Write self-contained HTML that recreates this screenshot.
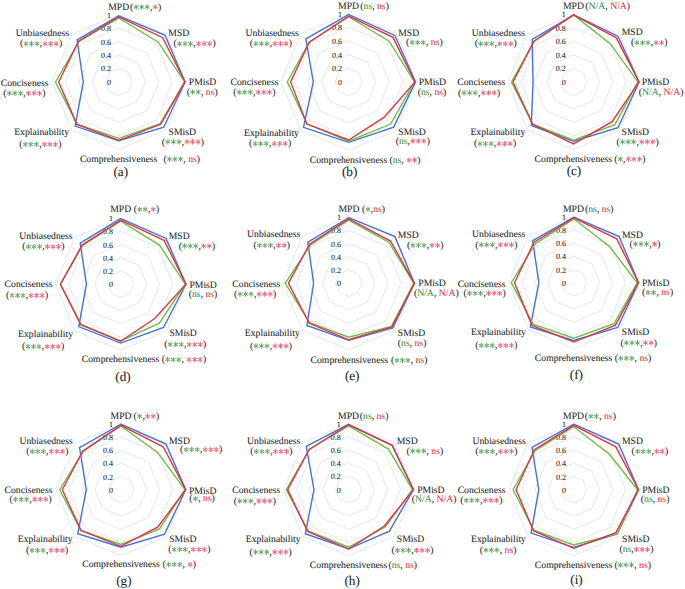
<!DOCTYPE html>
<html><head><meta charset="utf-8"><style>
html,body{margin:0;padding:0;background:#fff;}
svg{display:block;}
text{font-family:"Liberation Serif",serif;font-kerning:none;white-space:pre;text-rendering:geometricPrecision;stroke-width:0.07px;stroke-linejoin:round;}
</style></head><body>
<svg width="685" height="589" viewBox="0 0 685 589">
<rect width="685" height="589" fill="#fff"/>
<polygon points="118.85,68.47 128.30,72.42 132.21,81.95 128.30,91.48 118.85,95.43 109.40,91.48 105.49,81.95 109.40,72.42" fill="none" stroke="#dcdcdc" stroke-width="0.7"/>
<polygon points="118.85,54.99 137.74,62.89 145.57,81.95 137.74,101.01 118.85,108.91 99.96,101.01 92.13,81.95 99.96,62.89" fill="none" stroke="#dcdcdc" stroke-width="0.7"/>
<polygon points="118.85,41.51 147.19,53.35 158.93,81.95 147.19,110.55 118.85,122.39 90.51,110.55 78.77,81.95 90.51,53.35" fill="none" stroke="#dcdcdc" stroke-width="0.7"/>
<polygon points="118.85,28.03 156.64,43.82 172.29,81.95 156.64,120.08 118.85,135.87 81.06,120.08 65.41,81.95 81.06,43.82" fill="none" stroke="#dcdcdc" stroke-width="0.7"/>
<polygon points="118.85,14.55 166.08,34.29 185.65,81.95 166.08,129.61 118.85,149.35 71.62,129.61 52.05,81.95 71.62,34.29" fill="none" stroke="#dcdcdc" stroke-width="0.7"/>
<text x="111.05" y="84.95" font-size="8.0" text-anchor="end" fill="#1e1e1e" stroke="#1e1e1e">0</text>
<text x="111.05" y="71.47" font-size="8.0" text-anchor="end" fill="#1e1e1e" stroke="#1e1e1e">0.2</text>
<text x="111.05" y="57.99" font-size="8.0" text-anchor="end" fill="#1e1e1e" stroke="#1e1e1e">0.4</text>
<text x="111.05" y="44.51" font-size="8.0" text-anchor="end" fill="#1e1e1e" stroke="#1e1e1e">0.6</text>
<text x="111.05" y="31.03" font-size="8.0" text-anchor="end" fill="#1e1e1e" stroke="#1e1e1e">0.8</text>
<text x="111.05" y="17.55" font-size="8.0" text-anchor="end" fill="#1e1e1e" stroke="#1e1e1e">1</text>
<polygon points="118.85,15.83 165.05,35.34 184.98,81.95 163.77,127.27 118.85,140.79 75.11,126.08 83.31,81.95 77.05,39.77" fill="none" stroke="#4472d6" stroke-width="1.4" stroke-linejoin="miter"/>
<polygon points="118.85,17.99 158.29,42.15 184.65,81.95 160.18,123.65 118.85,138.36 77.05,124.13 55.52,81.95 78.94,41.68" fill="none" stroke="#6cc044" stroke-width="1.4" stroke-linejoin="miter"/>
<polygon points="118.85,16.77 162.68,37.72 184.98,81.95 160.65,124.13 118.85,140.32 76.81,124.37 58.73,81.95 78.46,41.20" fill="none" stroke="#e0344a" stroke-width="1.4" stroke-linejoin="miter"/>
<text x="108.25" y="9.75" font-size="9.7" fill="#1e1e1e" stroke="#1e1e1e">MPD</text>
<text x="130.07" y="9.75" font-size="9.7" fill="#1e1e1e" stroke="#1e1e1e">(</text>
<path d="M136.08,9.35L136.08,4.75M134.09,8.20L138.07,5.90M138.07,8.20L134.09,5.90" stroke="#64a864" stroke-width="1.0" stroke-linecap="round" fill="none"/>
<path d="M141.63,9.35L141.63,4.75M139.64,8.20L143.62,5.90M143.62,8.20L139.64,5.90" stroke="#64a864" stroke-width="1.0" stroke-linecap="round" fill="none"/>
<path d="M147.18,9.35L147.18,4.75M145.19,8.20L149.17,5.90M149.17,8.20L145.19,5.90" stroke="#64a864" stroke-width="1.0" stroke-linecap="round" fill="none"/>
<text x="149.95" y="9.75" font-size="9.7" fill="#1e1e1e" stroke="#1e1e1e">,</text>
<path d="M155.15,9.35L155.15,4.75M153.16,8.20L157.15,5.90M157.15,8.20L153.16,5.90" stroke="#e8687f" stroke-width="1.0" stroke-linecap="round" fill="none"/>
<text x="157.93" y="9.75" font-size="9.7" fill="#1e1e1e" stroke="#1e1e1e">)</text>
<text x="178.85" y="35.85" font-size="9.7" text-anchor="middle" fill="#1e1e1e" stroke="#1e1e1e">MSD</text>
<text x="173.46" y="46.45" font-size="9.7" fill="#1e1e1e" stroke="#1e1e1e">(</text>
<path d="M179.46,46.05L179.46,41.45M177.47,44.90L181.45,42.60M181.45,44.90L177.47,42.60" stroke="#64a864" stroke-width="1.0" stroke-linecap="round" fill="none"/>
<path d="M185.01,46.05L185.01,41.45M183.02,44.90L187.00,42.60M187.00,44.90L183.02,42.60" stroke="#64a864" stroke-width="1.0" stroke-linecap="round" fill="none"/>
<path d="M190.56,46.05L190.56,41.45M188.57,44.90L192.55,42.60M192.55,44.90L188.57,42.60" stroke="#64a864" stroke-width="1.0" stroke-linecap="round" fill="none"/>
<text x="193.34" y="46.45" font-size="9.7" fill="#1e1e1e" stroke="#1e1e1e">,</text>
<path d="M198.54,46.05L198.54,41.45M196.55,44.90L200.53,42.60M200.53,44.90L196.55,42.60" stroke="#e8687f" stroke-width="1.0" stroke-linecap="round" fill="none"/>
<path d="M204.09,46.05L204.09,41.45M202.10,44.90L206.08,42.60M206.08,44.90L202.10,42.60" stroke="#e8687f" stroke-width="1.0" stroke-linecap="round" fill="none"/>
<path d="M209.64,46.05L209.64,41.45M207.65,44.90L211.63,42.60M211.63,44.90L207.65,42.60" stroke="#e8687f" stroke-width="1.0" stroke-linecap="round" fill="none"/>
<text x="212.41" y="46.45" font-size="9.7" fill="#1e1e1e" stroke="#1e1e1e">)</text>
<text x="202.55" y="85.25" font-size="9.7" text-anchor="middle" fill="#1e1e1e" stroke="#1e1e1e">PMisD</text>
<text x="186.63" y="94.75" font-size="9.7" fill="#1e1e1e" stroke="#1e1e1e">(</text>
<path d="M192.64,94.35L192.64,89.75M190.65,93.20L194.63,90.90M194.63,93.20L190.65,90.90" stroke="#64a864" stroke-width="1.0" stroke-linecap="round" fill="none"/>
<path d="M198.19,94.35L198.19,89.75M196.20,93.20L200.18,90.90M200.18,93.20L196.20,90.90" stroke="#64a864" stroke-width="1.0" stroke-linecap="round" fill="none"/>
<text x="200.96" y="94.75" font-size="9.7" fill="#1e1e1e" stroke="#1e1e1e">, </text>
<text x="205.81" y="94.75" font-size="9.7" fill="#e03548" stroke="#e03548">ns</text>
<text x="214.44" y="94.75" font-size="9.7" fill="#1e1e1e" stroke="#1e1e1e">)</text>
<text x="182.25" y="134.95" font-size="9.7" text-anchor="middle" fill="#1e1e1e" stroke="#1e1e1e">SMisD</text>
<text x="161.86" y="144.55" font-size="9.7" fill="#1e1e1e" stroke="#1e1e1e">(</text>
<path d="M167.86,144.15L167.86,139.55M165.87,143.00L169.85,140.70M169.85,143.00L165.87,140.70" stroke="#64a864" stroke-width="1.0" stroke-linecap="round" fill="none"/>
<path d="M173.41,144.15L173.41,139.55M171.42,143.00L175.40,140.70M175.40,143.00L171.42,140.70" stroke="#64a864" stroke-width="1.0" stroke-linecap="round" fill="none"/>
<path d="M178.96,144.15L178.96,139.55M176.97,143.00L180.95,140.70M180.95,143.00L176.97,140.70" stroke="#64a864" stroke-width="1.0" stroke-linecap="round" fill="none"/>
<text x="181.74" y="144.55" font-size="9.7" fill="#1e1e1e" stroke="#1e1e1e">,</text>
<path d="M186.94,144.15L186.94,139.55M184.95,143.00L188.93,140.70M188.93,143.00L184.95,140.70" stroke="#e8687f" stroke-width="1.0" stroke-linecap="round" fill="none"/>
<path d="M192.49,144.15L192.49,139.55M190.50,143.00L194.48,140.70M194.48,143.00L190.50,140.70" stroke="#e8687f" stroke-width="1.0" stroke-linecap="round" fill="none"/>
<path d="M198.04,144.15L198.04,139.55M196.05,143.00L200.03,140.70M200.03,143.00L196.05,140.70" stroke="#e8687f" stroke-width="1.0" stroke-linecap="round" fill="none"/>
<text x="200.81" y="144.55" font-size="9.7" fill="#1e1e1e" stroke="#1e1e1e">)</text>
<text x="118.65" y="161.85" font-size="9.7" text-anchor="middle" fill="#1e1e1e" stroke="#1e1e1e">Comprehensiveness</text>
<text x="163.44" y="161.85" font-size="9.7" fill="#1e1e1e" stroke="#1e1e1e">(</text>
<path d="M169.45,161.45L169.45,156.85M167.46,160.30L171.44,158.00M171.44,160.30L167.46,158.00" stroke="#64a864" stroke-width="1.0" stroke-linecap="round" fill="none"/>
<path d="M175.00,161.45L175.00,156.85M173.01,160.30L176.99,158.00M176.99,160.30L173.01,158.00" stroke="#64a864" stroke-width="1.0" stroke-linecap="round" fill="none"/>
<path d="M180.55,161.45L180.55,156.85M178.56,160.30L182.54,158.00M182.54,160.30L178.56,158.00" stroke="#64a864" stroke-width="1.0" stroke-linecap="round" fill="none"/>
<text x="183.32" y="161.85" font-size="9.7" fill="#1e1e1e" stroke="#1e1e1e">, </text>
<text x="188.17" y="161.85" font-size="9.7" fill="#e03548" stroke="#e03548">ns</text>
<text x="196.80" y="161.85" font-size="9.7" fill="#1e1e1e" stroke="#1e1e1e">)</text>
<text x="41.65" y="135.35" font-size="9.7" text-anchor="middle" fill="#1e1e1e" stroke="#1e1e1e">Explainability</text>
<text x="19.26" y="147.05" font-size="9.7" fill="#1e1e1e" stroke="#1e1e1e">(</text>
<path d="M25.26,146.65L25.26,142.05M23.27,145.50L27.25,143.20M27.25,145.50L23.27,143.20" stroke="#64a864" stroke-width="1.0" stroke-linecap="round" fill="none"/>
<path d="M30.81,146.65L30.81,142.05M28.82,145.50L32.80,143.20M32.80,145.50L28.82,143.20" stroke="#64a864" stroke-width="1.0" stroke-linecap="round" fill="none"/>
<path d="M36.36,146.65L36.36,142.05M34.37,145.50L38.35,143.20M38.35,145.50L34.37,143.20" stroke="#64a864" stroke-width="1.0" stroke-linecap="round" fill="none"/>
<text x="39.14" y="147.05" font-size="9.7" fill="#1e1e1e" stroke="#1e1e1e">,</text>
<path d="M44.34,146.65L44.34,142.05M42.35,145.50L46.33,143.20M46.33,145.50L42.35,143.20" stroke="#e8687f" stroke-width="1.0" stroke-linecap="round" fill="none"/>
<path d="M49.89,146.65L49.89,142.05M47.90,145.50L51.88,143.20M51.88,145.50L47.90,143.20" stroke="#e8687f" stroke-width="1.0" stroke-linecap="round" fill="none"/>
<path d="M55.44,146.65L55.44,142.05M53.45,145.50L57.43,143.20M57.43,145.50L53.45,143.20" stroke="#e8687f" stroke-width="1.0" stroke-linecap="round" fill="none"/>
<text x="58.21" y="147.05" font-size="9.7" fill="#1e1e1e" stroke="#1e1e1e">)</text>
<text x="24.65" y="86.25" font-size="9.7" text-anchor="middle" fill="#1e1e1e" stroke="#1e1e1e">Conciseness</text>
<text x="3.36" y="95.95" font-size="9.7" fill="#1e1e1e" stroke="#1e1e1e">(</text>
<path d="M9.36,95.55L9.36,90.95M7.37,94.40L11.35,92.10M11.35,94.40L7.37,92.10" stroke="#64a864" stroke-width="1.0" stroke-linecap="round" fill="none"/>
<path d="M14.91,95.55L14.91,90.95M12.92,94.40L16.90,92.10M16.90,94.40L12.92,92.10" stroke="#64a864" stroke-width="1.0" stroke-linecap="round" fill="none"/>
<path d="M20.46,95.55L20.46,90.95M18.47,94.40L22.45,92.10M22.45,94.40L18.47,92.10" stroke="#64a864" stroke-width="1.0" stroke-linecap="round" fill="none"/>
<text x="23.24" y="95.95" font-size="9.7" fill="#1e1e1e" stroke="#1e1e1e">,</text>
<path d="M28.44,95.55L28.44,90.95M26.45,94.40L30.43,92.10M30.43,94.40L26.45,92.10" stroke="#e8687f" stroke-width="1.0" stroke-linecap="round" fill="none"/>
<path d="M33.99,95.55L33.99,90.95M32.00,94.40L35.98,92.10M35.98,94.40L32.00,92.10" stroke="#e8687f" stroke-width="1.0" stroke-linecap="round" fill="none"/>
<path d="M39.54,95.55L39.54,90.95M37.55,94.40L41.53,92.10M41.53,94.40L37.55,92.10" stroke="#e8687f" stroke-width="1.0" stroke-linecap="round" fill="none"/>
<text x="42.31" y="95.95" font-size="9.7" fill="#1e1e1e" stroke="#1e1e1e">)</text>
<text x="42.35" y="35.85" font-size="9.7" text-anchor="middle" fill="#1e1e1e" stroke="#1e1e1e">Unbiasedness</text>
<text x="19.96" y="46.45" font-size="9.7" fill="#1e1e1e" stroke="#1e1e1e">(</text>
<path d="M25.96,46.05L25.96,41.45M23.97,44.90L27.95,42.60M27.95,44.90L23.97,42.60" stroke="#64a864" stroke-width="1.0" stroke-linecap="round" fill="none"/>
<path d="M31.51,46.05L31.51,41.45M29.52,44.90L33.50,42.60M33.50,44.90L29.52,42.60" stroke="#64a864" stroke-width="1.0" stroke-linecap="round" fill="none"/>
<path d="M37.06,46.05L37.06,41.45M35.07,44.90L39.05,42.60M39.05,44.90L35.07,42.60" stroke="#64a864" stroke-width="1.0" stroke-linecap="round" fill="none"/>
<text x="39.84" y="46.45" font-size="9.7" fill="#1e1e1e" stroke="#1e1e1e">,</text>
<path d="M45.04,46.05L45.04,41.45M43.05,44.90L47.03,42.60M47.03,44.90L43.05,42.60" stroke="#e8687f" stroke-width="1.0" stroke-linecap="round" fill="none"/>
<path d="M50.59,46.05L50.59,41.45M48.60,44.90L52.58,42.60M52.58,44.90L48.60,42.60" stroke="#e8687f" stroke-width="1.0" stroke-linecap="round" fill="none"/>
<path d="M56.14,46.05L56.14,41.45M54.15,44.90L58.13,42.60M58.13,44.90L54.15,42.60" stroke="#e8687f" stroke-width="1.0" stroke-linecap="round" fill="none"/>
<text x="58.91" y="46.45" font-size="9.7" fill="#1e1e1e" stroke="#1e1e1e">)</text>
<text x="120.75" y="176.35" font-size="13.2" text-anchor="middle" fill="#1e1e1e" stroke="#1e1e1e">(a)</text>
<polygon points="348.70,68.26 358.29,72.26 362.26,81.90 358.29,91.54 348.70,95.54 339.11,91.54 335.14,81.90 339.11,72.26" fill="none" stroke="#dcdcdc" stroke-width="0.7"/>
<polygon points="348.70,54.62 367.88,62.61 375.82,81.90 367.88,101.19 348.70,109.18 329.52,101.19 321.58,81.90 329.52,62.61" fill="none" stroke="#dcdcdc" stroke-width="0.7"/>
<polygon points="348.70,40.98 377.47,52.97 389.38,81.90 377.47,110.83 348.70,122.82 319.93,110.83 308.02,81.90 319.93,52.97" fill="none" stroke="#dcdcdc" stroke-width="0.7"/>
<polygon points="348.70,27.34 387.05,43.32 402.94,81.90 387.05,120.48 348.70,136.46 310.35,120.48 294.46,81.90 310.35,43.32" fill="none" stroke="#dcdcdc" stroke-width="0.7"/>
<polygon points="348.70,13.70 396.64,33.68 416.50,81.90 396.64,130.12 348.70,150.10 300.76,130.12 280.90,81.90 300.76,33.68" fill="none" stroke="#dcdcdc" stroke-width="0.7"/>
<text x="341.90" y="84.90" font-size="8.0" text-anchor="end" fill="#1e1e1e" stroke="#1e1e1e">0</text>
<text x="341.90" y="71.26" font-size="8.0" text-anchor="end" fill="#1e1e1e" stroke="#1e1e1e">0.2</text>
<text x="341.90" y="57.62" font-size="8.0" text-anchor="end" fill="#1e1e1e" stroke="#1e1e1e">0.4</text>
<text x="341.90" y="43.98" font-size="8.0" text-anchor="end" fill="#1e1e1e" stroke="#1e1e1e">0.6</text>
<text x="341.90" y="30.34" font-size="8.0" text-anchor="end" fill="#1e1e1e" stroke="#1e1e1e">0.8</text>
<text x="341.90" y="16.70" font-size="8.0" text-anchor="end" fill="#1e1e1e" stroke="#1e1e1e">1</text>
<polygon points="348.70,14.52 394.87,35.46 415.48,81.90 393.67,127.13 348.70,142.33 303.49,127.38 313.31,81.90 305.84,38.79" fill="none" stroke="#4472d6" stroke-width="1.4" stroke-linejoin="miter"/>
<polygon points="348.70,16.77 389.16,41.20 414.47,81.90 390.60,124.05 348.70,141.23 307.04,123.81 287.27,81.90 309.20,42.16" fill="none" stroke="#6cc044" stroke-width="1.4" stroke-linejoin="miter"/>
<polygon points="348.70,16.22 392.95,37.39 415.01,81.90 383.94,117.35 348.70,140.01 306.80,124.05 290.60,81.90 309.20,42.16" fill="none" stroke="#e0344a" stroke-width="1.4" stroke-linejoin="miter"/>
<text x="338.10" y="9.20" font-size="9.7" fill="#1e1e1e" stroke="#1e1e1e">MPD</text>
<text x="360.32" y="9.20" font-size="9.7" fill="#1e1e1e" stroke="#1e1e1e">(</text>
<text x="363.55" y="9.20" font-size="9.7" fill="#3d8f3d" stroke="#3d8f3d">ns</text>
<text x="372.18" y="9.20" font-size="9.7" fill="#1e1e1e" stroke="#1e1e1e">, </text>
<text x="377.03" y="9.20" font-size="9.7" fill="#e03548" stroke="#e03548">ns</text>
<text x="385.65" y="9.20" font-size="9.7" fill="#1e1e1e" stroke="#1e1e1e">)</text>
<text x="408.70" y="35.80" font-size="9.7" text-anchor="middle" fill="#1e1e1e" stroke="#1e1e1e">MSD</text>
<text x="406.11" y="45.20" font-size="9.7" fill="#1e1e1e" stroke="#1e1e1e">(</text>
<path d="M412.11,44.80L412.11,40.20M410.12,43.65L414.10,41.35M414.10,43.65L410.12,41.35" stroke="#64a864" stroke-width="1.0" stroke-linecap="round" fill="none"/>
<path d="M417.66,44.80L417.66,40.20M415.67,43.65L419.65,41.35M419.65,43.65L415.67,41.35" stroke="#64a864" stroke-width="1.0" stroke-linecap="round" fill="none"/>
<path d="M423.21,44.80L423.21,40.20M421.22,43.65L425.20,41.35M425.20,43.65L421.22,41.35" stroke="#64a864" stroke-width="1.0" stroke-linecap="round" fill="none"/>
<text x="425.99" y="45.20" font-size="9.7" fill="#1e1e1e" stroke="#1e1e1e">, </text>
<text x="430.84" y="45.20" font-size="9.7" fill="#e03548" stroke="#e03548">ns</text>
<text x="439.46" y="45.20" font-size="9.7" fill="#1e1e1e" stroke="#1e1e1e">)</text>
<text x="432.40" y="85.20" font-size="9.7" text-anchor="middle" fill="#1e1e1e" stroke="#1e1e1e">PMisD</text>
<text x="417.72" y="94.50" font-size="9.7" fill="#1e1e1e" stroke="#1e1e1e">(</text>
<text x="420.95" y="94.50" font-size="9.7" fill="#3d8f3d" stroke="#3d8f3d">ns</text>
<text x="429.57" y="94.50" font-size="9.7" fill="#1e1e1e" stroke="#1e1e1e">, </text>
<text x="434.43" y="94.50" font-size="9.7" fill="#e03548" stroke="#e03548">ns</text>
<text x="443.05" y="94.50" font-size="9.7" fill="#1e1e1e" stroke="#1e1e1e">)</text>
<text x="412.10" y="135.40" font-size="9.7" text-anchor="middle" fill="#1e1e1e" stroke="#1e1e1e">SMisD</text>
<text x="395.72" y="143.70" font-size="9.7" fill="#1e1e1e" stroke="#1e1e1e">(</text>
<text x="398.95" y="143.70" font-size="9.7" fill="#3d8f3d" stroke="#3d8f3d">ns</text>
<text x="407.57" y="143.70" font-size="9.7" fill="#1e1e1e" stroke="#1e1e1e">,</text>
<path d="M412.77,143.30L412.77,138.70M410.78,142.15L414.77,139.85M414.77,142.15L410.78,139.85" stroke="#e8687f" stroke-width="1.0" stroke-linecap="round" fill="none"/>
<path d="M418.32,143.30L418.32,138.70M416.33,142.15L420.32,139.85M420.32,142.15L416.33,139.85" stroke="#e8687f" stroke-width="1.0" stroke-linecap="round" fill="none"/>
<path d="M423.87,143.30L423.87,138.70M421.88,142.15L425.87,139.85M425.87,142.15L421.88,139.85" stroke="#e8687f" stroke-width="1.0" stroke-linecap="round" fill="none"/>
<text x="426.65" y="143.70" font-size="9.7" fill="#1e1e1e" stroke="#1e1e1e">)</text>
<text x="348.50" y="162.80" font-size="9.7" text-anchor="middle" fill="#1e1e1e" stroke="#1e1e1e">Comprehensiveness</text>
<text x="389.49" y="162.80" font-size="9.7" fill="#1e1e1e" stroke="#1e1e1e">(</text>
<text x="392.72" y="162.80" font-size="9.7" fill="#3d8f3d" stroke="#3d8f3d">ns</text>
<text x="401.35" y="162.80" font-size="9.7" fill="#1e1e1e" stroke="#1e1e1e">, </text>
<path d="M408.97,162.40L408.97,157.80M406.98,161.25L410.96,158.95M410.96,161.25L406.98,158.95" stroke="#e8687f" stroke-width="1.0" stroke-linecap="round" fill="none"/>
<path d="M414.52,162.40L414.52,157.80M412.53,161.25L416.51,158.95M416.51,161.25L412.53,158.95" stroke="#e8687f" stroke-width="1.0" stroke-linecap="round" fill="none"/>
<text x="417.30" y="162.80" font-size="9.7" fill="#1e1e1e" stroke="#1e1e1e">)</text>
<text x="271.50" y="136.20" font-size="9.7" text-anchor="middle" fill="#1e1e1e" stroke="#1e1e1e">Explainability</text>
<text x="249.11" y="146.40" font-size="9.7" fill="#1e1e1e" stroke="#1e1e1e">(</text>
<path d="M255.11,146.00L255.11,141.40M253.12,144.85L257.10,142.55M257.10,144.85L253.12,142.55" stroke="#64a864" stroke-width="1.0" stroke-linecap="round" fill="none"/>
<path d="M260.66,146.00L260.66,141.40M258.67,144.85L262.65,142.55M262.65,144.85L258.67,142.55" stroke="#64a864" stroke-width="1.0" stroke-linecap="round" fill="none"/>
<path d="M266.21,146.00L266.21,141.40M264.22,144.85L268.20,142.55M268.20,144.85L264.22,142.55" stroke="#64a864" stroke-width="1.0" stroke-linecap="round" fill="none"/>
<text x="268.99" y="146.40" font-size="9.7" fill="#1e1e1e" stroke="#1e1e1e">,</text>
<path d="M274.19,146.00L274.19,141.40M272.20,144.85L276.18,142.55M276.18,144.85L272.20,142.55" stroke="#e8687f" stroke-width="1.0" stroke-linecap="round" fill="none"/>
<path d="M279.74,146.00L279.74,141.40M277.75,144.85L281.73,142.55M281.73,144.85L277.75,142.55" stroke="#e8687f" stroke-width="1.0" stroke-linecap="round" fill="none"/>
<path d="M285.29,146.00L285.29,141.40M283.30,144.85L287.28,142.55M287.28,144.85L283.30,142.55" stroke="#e8687f" stroke-width="1.0" stroke-linecap="round" fill="none"/>
<text x="288.06" y="146.40" font-size="9.7" fill="#1e1e1e" stroke="#1e1e1e">)</text>
<text x="254.50" y="85.40" font-size="9.7" text-anchor="middle" fill="#1e1e1e" stroke="#1e1e1e">Conciseness</text>
<text x="233.21" y="94.90" font-size="9.7" fill="#1e1e1e" stroke="#1e1e1e">(</text>
<path d="M239.21,94.50L239.21,89.90M237.22,93.35L241.20,91.05M241.20,93.35L237.22,91.05" stroke="#64a864" stroke-width="1.0" stroke-linecap="round" fill="none"/>
<path d="M244.76,94.50L244.76,89.90M242.77,93.35L246.75,91.05M246.75,93.35L242.77,91.05" stroke="#64a864" stroke-width="1.0" stroke-linecap="round" fill="none"/>
<path d="M250.31,94.50L250.31,89.90M248.32,93.35L252.30,91.05M252.30,93.35L248.32,91.05" stroke="#64a864" stroke-width="1.0" stroke-linecap="round" fill="none"/>
<text x="253.09" y="94.90" font-size="9.7" fill="#1e1e1e" stroke="#1e1e1e">,</text>
<path d="M258.29,94.50L258.29,89.90M256.30,93.35L260.28,91.05M260.28,93.35L256.30,91.05" stroke="#e8687f" stroke-width="1.0" stroke-linecap="round" fill="none"/>
<path d="M263.84,94.50L263.84,89.90M261.85,93.35L265.83,91.05M265.83,93.35L261.85,91.05" stroke="#e8687f" stroke-width="1.0" stroke-linecap="round" fill="none"/>
<path d="M269.39,94.50L269.39,89.90M267.40,93.35L271.38,91.05M271.38,93.35L267.40,91.05" stroke="#e8687f" stroke-width="1.0" stroke-linecap="round" fill="none"/>
<text x="272.16" y="94.90" font-size="9.7" fill="#1e1e1e" stroke="#1e1e1e">)</text>
<text x="272.20" y="35.80" font-size="9.7" text-anchor="middle" fill="#1e1e1e" stroke="#1e1e1e">Unbiasedness</text>
<text x="249.81" y="46.40" font-size="9.7" fill="#1e1e1e" stroke="#1e1e1e">(</text>
<path d="M255.81,46.00L255.81,41.40M253.82,44.85L257.80,42.55M257.80,44.85L253.82,42.55" stroke="#64a864" stroke-width="1.0" stroke-linecap="round" fill="none"/>
<path d="M261.36,46.00L261.36,41.40M259.37,44.85L263.35,42.55M263.35,44.85L259.37,42.55" stroke="#64a864" stroke-width="1.0" stroke-linecap="round" fill="none"/>
<path d="M266.91,46.00L266.91,41.40M264.92,44.85L268.90,42.55M268.90,44.85L264.92,42.55" stroke="#64a864" stroke-width="1.0" stroke-linecap="round" fill="none"/>
<text x="269.69" y="46.40" font-size="9.7" fill="#1e1e1e" stroke="#1e1e1e">,</text>
<path d="M274.89,46.00L274.89,41.40M272.90,44.85L276.88,42.55M276.88,44.85L272.90,42.55" stroke="#e8687f" stroke-width="1.0" stroke-linecap="round" fill="none"/>
<path d="M280.44,46.00L280.44,41.40M278.45,44.85L282.43,42.55M282.43,44.85L278.45,42.55" stroke="#e8687f" stroke-width="1.0" stroke-linecap="round" fill="none"/>
<path d="M285.99,46.00L285.99,41.40M284.00,44.85L287.98,42.55M287.98,44.85L284.00,42.55" stroke="#e8687f" stroke-width="1.0" stroke-linecap="round" fill="none"/>
<text x="288.76" y="46.40" font-size="9.7" fill="#1e1e1e" stroke="#1e1e1e">)</text>
<text x="349.60" y="175.90" font-size="13.2" text-anchor="middle" fill="#1e1e1e" stroke="#1e1e1e">(b)</text>
<polygon points="573.55,68.45 582.81,72.40 586.65,81.95 582.81,91.50 573.55,95.45 564.29,91.50 560.45,81.95 564.29,72.40" fill="none" stroke="#dcdcdc" stroke-width="0.7"/>
<polygon points="573.55,54.95 592.08,62.86 599.75,81.95 592.08,101.04 573.55,108.95 555.02,101.04 547.35,81.95 555.02,62.86" fill="none" stroke="#dcdcdc" stroke-width="0.7"/>
<polygon points="573.55,41.45 601.34,53.31 612.85,81.95 601.34,110.59 573.55,122.45 545.76,110.59 534.25,81.95 545.76,53.31" fill="none" stroke="#dcdcdc" stroke-width="0.7"/>
<polygon points="573.55,27.95 610.60,43.77 625.95,81.95 610.60,120.13 573.55,135.95 536.50,120.13 521.15,81.95 536.50,43.77" fill="none" stroke="#dcdcdc" stroke-width="0.7"/>
<polygon points="573.55,14.45 619.87,34.22 639.05,81.95 619.87,129.68 573.55,149.45 527.23,129.68 508.05,81.95 527.23,34.22" fill="none" stroke="#dcdcdc" stroke-width="0.7"/>
<text x="565.75" y="84.95" font-size="8.0" text-anchor="end" fill="#1e1e1e" stroke="#1e1e1e">0</text>
<text x="565.75" y="71.45" font-size="8.0" text-anchor="end" fill="#1e1e1e" stroke="#1e1e1e">0.2</text>
<text x="565.75" y="57.95" font-size="8.0" text-anchor="end" fill="#1e1e1e" stroke="#1e1e1e">0.4</text>
<text x="565.75" y="44.45" font-size="8.0" text-anchor="end" fill="#1e1e1e" stroke="#1e1e1e">0.6</text>
<text x="565.75" y="30.95" font-size="8.0" text-anchor="end" fill="#1e1e1e" stroke="#1e1e1e">0.8</text>
<text x="565.75" y="17.45" font-size="8.0" text-anchor="end" fill="#1e1e1e" stroke="#1e1e1e">1</text>
<polygon points="573.55,14.92 617.97,36.18 639.05,81.95 617.97,127.72 573.55,141.22 531.26,125.53 533.07,81.95 532.19,39.33" fill="none" stroke="#4472d6" stroke-width="1.4" stroke-linejoin="miter"/>
<polygon points="573.55,14.92 610.46,43.91 637.87,81.95 614.91,124.57 573.55,140.20 532.65,124.10 511.52,81.95 534.04,41.24" fill="none" stroke="#6cc044" stroke-width="1.4" stroke-linejoin="miter"/>
<polygon points="573.55,14.92 616.35,37.85 638.98,81.95 612.08,121.66 573.55,143.85 532.65,124.10 513.03,81.95 534.04,41.24" fill="none" stroke="#e0344a" stroke-width="1.4" stroke-linejoin="miter"/>
<text x="562.95" y="9.05" font-size="9.7" fill="#1e1e1e" stroke="#1e1e1e">MPD</text>
<text x="585.37" y="9.05" font-size="9.7" fill="#1e1e1e" stroke="#1e1e1e">(</text>
<text x="588.60" y="9.05" font-size="9.7" fill="#3d8f3d" stroke="#3d8f3d">N/A</text>
<text x="605.31" y="9.05" font-size="9.7" fill="#1e1e1e" stroke="#1e1e1e">, </text>
<text x="610.16" y="9.05" font-size="9.7" fill="#e03548" stroke="#e03548">N/A</text>
<text x="626.86" y="9.05" font-size="9.7" fill="#1e1e1e" stroke="#1e1e1e">)</text>
<text x="632.15" y="35.25" font-size="9.7" text-anchor="middle" fill="#1e1e1e" stroke="#1e1e1e">MSD</text>
<text x="630.93" y="45.45" font-size="9.7" fill="#1e1e1e" stroke="#1e1e1e">(</text>
<path d="M636.94,45.05L636.94,40.45M634.95,43.90L638.93,41.60M638.93,43.90L634.95,41.60" stroke="#64a864" stroke-width="1.0" stroke-linecap="round" fill="none"/>
<path d="M642.49,45.05L642.49,40.45M640.50,43.90L644.48,41.60M644.48,43.90L640.50,41.60" stroke="#64a864" stroke-width="1.0" stroke-linecap="round" fill="none"/>
<path d="M648.04,45.05L648.04,40.45M646.05,43.90L650.03,41.60M650.03,43.90L646.05,41.60" stroke="#64a864" stroke-width="1.0" stroke-linecap="round" fill="none"/>
<text x="650.81" y="45.45" font-size="9.7" fill="#1e1e1e" stroke="#1e1e1e">,</text>
<path d="M656.01,45.05L656.01,40.45M654.02,43.90L658.00,41.60M658.00,43.90L654.02,41.60" stroke="#e8687f" stroke-width="1.0" stroke-linecap="round" fill="none"/>
<path d="M661.56,45.05L661.56,40.45M659.57,43.90L663.55,41.60M663.55,43.90L659.57,41.60" stroke="#e8687f" stroke-width="1.0" stroke-linecap="round" fill="none"/>
<text x="664.34" y="45.45" font-size="9.7" fill="#1e1e1e" stroke="#1e1e1e">)</text>
<text x="655.45" y="85.25" font-size="9.7" text-anchor="middle" fill="#1e1e1e" stroke="#1e1e1e">PMisD</text>
<text x="638.79" y="94.75" font-size="9.7" fill="#1e1e1e" stroke="#1e1e1e">(</text>
<text x="642.02" y="94.75" font-size="9.7" fill="#3d8f3d" stroke="#3d8f3d">N/A</text>
<text x="658.72" y="94.75" font-size="9.7" fill="#1e1e1e" stroke="#1e1e1e">, </text>
<text x="663.57" y="94.75" font-size="9.7" fill="#e03548" stroke="#e03548">N/A</text>
<text x="680.28" y="94.75" font-size="9.7" fill="#1e1e1e" stroke="#1e1e1e">)</text>
<text x="635.35" y="134.95" font-size="9.7" text-anchor="middle" fill="#1e1e1e" stroke="#1e1e1e">SMisD</text>
<text x="616.56" y="144.55" font-size="9.7" fill="#1e1e1e" stroke="#1e1e1e">(</text>
<path d="M622.56,144.15L622.56,139.55M620.57,143.00L624.55,140.70M624.55,143.00L620.57,140.70" stroke="#64a864" stroke-width="1.0" stroke-linecap="round" fill="none"/>
<path d="M628.11,144.15L628.11,139.55M626.12,143.00L630.10,140.70M630.10,143.00L626.12,140.70" stroke="#64a864" stroke-width="1.0" stroke-linecap="round" fill="none"/>
<path d="M633.66,144.15L633.66,139.55M631.67,143.00L635.65,140.70M635.65,143.00L631.67,140.70" stroke="#64a864" stroke-width="1.0" stroke-linecap="round" fill="none"/>
<text x="636.44" y="144.55" font-size="9.7" fill="#1e1e1e" stroke="#1e1e1e">,</text>
<path d="M641.64,144.15L641.64,139.55M639.65,143.00L643.63,140.70M643.63,143.00L639.65,140.70" stroke="#e8687f" stroke-width="1.0" stroke-linecap="round" fill="none"/>
<path d="M647.19,144.15L647.19,139.55M645.20,143.00L649.18,140.70M649.18,143.00L645.20,140.70" stroke="#e8687f" stroke-width="1.0" stroke-linecap="round" fill="none"/>
<path d="M652.74,144.15L652.74,139.55M650.75,143.00L654.73,140.70M654.73,143.00L650.75,140.70" stroke="#e8687f" stroke-width="1.0" stroke-linecap="round" fill="none"/>
<text x="655.51" y="144.55" font-size="9.7" fill="#1e1e1e" stroke="#1e1e1e">)</text>
<text x="573.35" y="161.85" font-size="9.7" text-anchor="middle" fill="#1e1e1e" stroke="#1e1e1e">Comprehensiveness</text>
<text x="614.34" y="161.85" font-size="9.7" fill="#1e1e1e" stroke="#1e1e1e">(</text>
<path d="M620.35,161.45L620.35,156.85M618.36,160.30L622.34,158.00M622.34,160.30L618.36,158.00" stroke="#64a864" stroke-width="1.0" stroke-linecap="round" fill="none"/>
<text x="623.12" y="161.85" font-size="9.7" fill="#1e1e1e" stroke="#1e1e1e">,</text>
<path d="M628.32,161.45L628.32,156.85M626.33,160.30L630.31,158.00M630.31,160.30L626.33,158.00" stroke="#e8687f" stroke-width="1.0" stroke-linecap="round" fill="none"/>
<path d="M633.87,161.45L633.87,156.85M631.88,160.30L635.86,158.00M635.86,160.30L631.88,158.00" stroke="#e8687f" stroke-width="1.0" stroke-linecap="round" fill="none"/>
<path d="M639.42,161.45L639.42,156.85M637.43,160.30L641.41,158.00M641.41,160.30L637.43,158.00" stroke="#e8687f" stroke-width="1.0" stroke-linecap="round" fill="none"/>
<text x="642.20" y="161.85" font-size="9.7" fill="#1e1e1e" stroke="#1e1e1e">)</text>
<text x="497.85" y="135.35" font-size="9.7" text-anchor="middle" fill="#1e1e1e" stroke="#1e1e1e">Explainability</text>
<text x="473.96" y="146.45" font-size="9.7" fill="#1e1e1e" stroke="#1e1e1e">(</text>
<path d="M479.96,146.05L479.96,141.45M477.97,144.90L481.95,142.60M481.95,144.90L477.97,142.60" stroke="#64a864" stroke-width="1.0" stroke-linecap="round" fill="none"/>
<path d="M485.51,146.05L485.51,141.45M483.52,144.90L487.50,142.60M487.50,144.90L483.52,142.60" stroke="#64a864" stroke-width="1.0" stroke-linecap="round" fill="none"/>
<path d="M491.06,146.05L491.06,141.45M489.07,144.90L493.05,142.60M493.05,144.90L489.07,142.60" stroke="#64a864" stroke-width="1.0" stroke-linecap="round" fill="none"/>
<text x="493.84" y="146.45" font-size="9.7" fill="#1e1e1e" stroke="#1e1e1e">,</text>
<path d="M499.04,146.05L499.04,141.45M497.05,144.90L501.03,142.60M501.03,144.90L497.05,142.60" stroke="#e8687f" stroke-width="1.0" stroke-linecap="round" fill="none"/>
<path d="M504.59,146.05L504.59,141.45M502.60,144.90L506.58,142.60M506.58,144.90L502.60,142.60" stroke="#e8687f" stroke-width="1.0" stroke-linecap="round" fill="none"/>
<path d="M510.14,146.05L510.14,141.45M508.15,144.90L512.13,142.60M512.13,144.90L508.15,142.60" stroke="#e8687f" stroke-width="1.0" stroke-linecap="round" fill="none"/>
<text x="512.91" y="146.45" font-size="9.7" fill="#1e1e1e" stroke="#1e1e1e">)</text>
<text x="481.25" y="85.45" font-size="9.7" text-anchor="middle" fill="#1e1e1e" stroke="#1e1e1e">Conciseness</text>
<text x="458.06" y="95.55" font-size="9.7" fill="#1e1e1e" stroke="#1e1e1e">(</text>
<path d="M464.06,95.15L464.06,90.55M462.07,94.00L466.05,91.70M466.05,94.00L462.07,91.70" stroke="#64a864" stroke-width="1.0" stroke-linecap="round" fill="none"/>
<path d="M469.61,95.15L469.61,90.55M467.62,94.00L471.60,91.70M471.60,94.00L467.62,91.70" stroke="#64a864" stroke-width="1.0" stroke-linecap="round" fill="none"/>
<path d="M475.16,95.15L475.16,90.55M473.17,94.00L477.15,91.70M477.15,94.00L473.17,91.70" stroke="#64a864" stroke-width="1.0" stroke-linecap="round" fill="none"/>
<text x="477.94" y="95.55" font-size="9.7" fill="#1e1e1e" stroke="#1e1e1e">,</text>
<path d="M483.14,95.15L483.14,90.55M481.15,94.00L485.13,91.70M485.13,94.00L481.15,91.70" stroke="#e8687f" stroke-width="1.0" stroke-linecap="round" fill="none"/>
<path d="M488.69,95.15L488.69,90.55M486.70,94.00L490.68,91.70M490.68,94.00L486.70,91.70" stroke="#e8687f" stroke-width="1.0" stroke-linecap="round" fill="none"/>
<path d="M494.24,95.15L494.24,90.55M492.25,94.00L496.23,91.70M496.23,94.00L492.25,91.70" stroke="#e8687f" stroke-width="1.0" stroke-linecap="round" fill="none"/>
<text x="497.01" y="95.55" font-size="9.7" fill="#1e1e1e" stroke="#1e1e1e">)</text>
<text x="498.45" y="35.85" font-size="9.7" text-anchor="middle" fill="#1e1e1e" stroke="#1e1e1e">Unbiasedness</text>
<text x="474.66" y="46.45" font-size="9.7" fill="#1e1e1e" stroke="#1e1e1e">(</text>
<path d="M480.66,46.05L480.66,41.45M478.67,44.90L482.65,42.60M482.65,44.90L478.67,42.60" stroke="#64a864" stroke-width="1.0" stroke-linecap="round" fill="none"/>
<path d="M486.21,46.05L486.21,41.45M484.22,44.90L488.20,42.60M488.20,44.90L484.22,42.60" stroke="#64a864" stroke-width="1.0" stroke-linecap="round" fill="none"/>
<path d="M491.76,46.05L491.76,41.45M489.77,44.90L493.75,42.60M493.75,44.90L489.77,42.60" stroke="#64a864" stroke-width="1.0" stroke-linecap="round" fill="none"/>
<text x="494.54" y="46.45" font-size="9.7" fill="#1e1e1e" stroke="#1e1e1e">,</text>
<path d="M499.74,46.05L499.74,41.45M497.75,44.90L501.73,42.60M501.73,44.90L497.75,42.60" stroke="#e8687f" stroke-width="1.0" stroke-linecap="round" fill="none"/>
<path d="M505.29,46.05L505.29,41.45M503.30,44.90L507.28,42.60M507.28,44.90L503.30,42.60" stroke="#e8687f" stroke-width="1.0" stroke-linecap="round" fill="none"/>
<path d="M510.84,46.05L510.84,41.45M508.85,44.90L512.83,42.60M512.83,44.90L508.85,42.60" stroke="#e8687f" stroke-width="1.0" stroke-linecap="round" fill="none"/>
<text x="513.61" y="46.45" font-size="9.7" fill="#1e1e1e" stroke="#1e1e1e">)</text>
<text x="573.95" y="175.05" font-size="13.2" text-anchor="middle" fill="#1e1e1e" stroke="#1e1e1e">(c)</text>
<polygon points="120.75,271.00 129.97,274.87 133.79,284.20 129.97,293.53 120.75,297.40 111.53,293.53 107.71,284.20 111.53,274.87" fill="none" stroke="#dcdcdc" stroke-width="0.7"/>
<polygon points="120.75,257.80 139.19,265.53 146.83,284.20 139.19,302.87 120.75,310.60 102.31,302.87 94.67,284.20 102.31,265.53" fill="none" stroke="#dcdcdc" stroke-width="0.7"/>
<polygon points="120.75,244.60 148.41,256.20 159.87,284.20 148.41,312.20 120.75,323.80 93.09,312.20 81.63,284.20 93.09,256.20" fill="none" stroke="#dcdcdc" stroke-width="0.7"/>
<polygon points="120.75,231.40 157.63,246.86 172.91,284.20 157.63,321.54 120.75,337.00 83.87,321.54 68.59,284.20 83.87,246.86" fill="none" stroke="#dcdcdc" stroke-width="0.7"/>
<polygon points="120.75,218.20 166.85,237.53 185.95,284.20 166.85,330.87 120.75,350.20 74.65,330.87 55.55,284.20 74.65,237.53" fill="none" stroke="#dcdcdc" stroke-width="0.7"/>
<text x="112.95" y="287.20" font-size="8.0" text-anchor="end" fill="#1e1e1e" stroke="#1e1e1e">0</text>
<text x="112.95" y="274.00" font-size="8.0" text-anchor="end" fill="#1e1e1e" stroke="#1e1e1e">0.2</text>
<text x="112.95" y="260.80" font-size="8.0" text-anchor="end" fill="#1e1e1e" stroke="#1e1e1e">0.4</text>
<text x="112.95" y="247.60" font-size="8.0" text-anchor="end" fill="#1e1e1e" stroke="#1e1e1e">0.6</text>
<text x="112.95" y="234.40" font-size="8.0" text-anchor="end" fill="#1e1e1e" stroke="#1e1e1e">0.8</text>
<text x="112.95" y="221.20" font-size="8.0" text-anchor="end" fill="#1e1e1e" stroke="#1e1e1e">1</text>
<polygon points="120.75,218.53 165.98,238.42 185.95,284.20 163.53,327.51 120.75,343.07 78.80,326.67 86.39,284.20 80.18,243.13" fill="none" stroke="#4472d6" stroke-width="1.4" stroke-linejoin="miter"/>
<polygon points="120.75,221.17 159.43,245.04 185.30,284.20 159.25,323.17 120.75,340.96 81.15,324.29 60.44,284.20 82.53,245.51" fill="none" stroke="#6cc044" stroke-width="1.4" stroke-linejoin="miter"/>
<polygon points="120.75,220.18 164.09,240.33 185.95,284.20 154.68,318.55 120.75,341.29 80.69,324.76 60.44,284.20 82.07,245.04" fill="none" stroke="#e0344a" stroke-width="1.4" stroke-linejoin="miter"/>
<text x="110.15" y="212.00" font-size="9.7" fill="#1e1e1e" stroke="#1e1e1e">MPD</text>
<text x="133.67" y="212.00" font-size="9.7" fill="#1e1e1e" stroke="#1e1e1e">(</text>
<path d="M139.68,211.60L139.68,207.00M137.69,210.45L141.67,208.15M141.67,210.45L137.69,208.15" stroke="#64a864" stroke-width="1.0" stroke-linecap="round" fill="none"/>
<path d="M145.23,211.60L145.23,207.00M143.24,210.45L147.22,208.15M147.22,210.45L143.24,208.15" stroke="#64a864" stroke-width="1.0" stroke-linecap="round" fill="none"/>
<text x="148.00" y="212.00" font-size="9.7" fill="#1e1e1e" stroke="#1e1e1e">,</text>
<path d="M153.20,211.60L153.20,207.00M151.21,210.45L155.20,208.15M155.20,210.45L151.21,208.15" stroke="#e8687f" stroke-width="1.0" stroke-linecap="round" fill="none"/>
<text x="155.98" y="212.00" font-size="9.7" fill="#1e1e1e" stroke="#1e1e1e">)</text>
<text x="179.25" y="239.10" font-size="9.7" text-anchor="middle" fill="#1e1e1e" stroke="#1e1e1e">MSD</text>
<text x="178.63" y="248.70" font-size="9.7" fill="#1e1e1e" stroke="#1e1e1e">(</text>
<path d="M184.64,248.30L184.64,243.70M182.65,247.15L186.63,244.85M186.63,247.15L182.65,244.85" stroke="#64a864" stroke-width="1.0" stroke-linecap="round" fill="none"/>
<path d="M190.19,248.30L190.19,243.70M188.20,247.15L192.18,244.85M192.18,247.15L188.20,244.85" stroke="#64a864" stroke-width="1.0" stroke-linecap="round" fill="none"/>
<path d="M195.74,248.30L195.74,243.70M193.75,247.15L197.73,244.85M197.73,247.15L193.75,244.85" stroke="#64a864" stroke-width="1.0" stroke-linecap="round" fill="none"/>
<text x="198.51" y="248.70" font-size="9.7" fill="#1e1e1e" stroke="#1e1e1e">,</text>
<path d="M203.71,248.30L203.71,243.70M201.72,247.15L205.70,244.85M205.70,247.15L201.72,244.85" stroke="#e8687f" stroke-width="1.0" stroke-linecap="round" fill="none"/>
<path d="M209.26,248.30L209.26,243.70M207.27,247.15L211.25,244.85M211.25,247.15L207.27,244.85" stroke="#e8687f" stroke-width="1.0" stroke-linecap="round" fill="none"/>
<text x="212.04" y="248.70" font-size="9.7" fill="#1e1e1e" stroke="#1e1e1e">)</text>
<text x="203.15" y="287.50" font-size="9.7" text-anchor="middle" fill="#1e1e1e" stroke="#1e1e1e">PMisD</text>
<text x="188.77" y="297.00" font-size="9.7" fill="#1e1e1e" stroke="#1e1e1e">(</text>
<text x="192.00" y="297.00" font-size="9.7" fill="#3d8f3d" stroke="#3d8f3d">ns</text>
<text x="200.63" y="297.00" font-size="9.7" fill="#1e1e1e" stroke="#1e1e1e">, </text>
<text x="205.48" y="297.00" font-size="9.7" fill="#e03548" stroke="#e03548">ns</text>
<text x="214.10" y="297.00" font-size="9.7" fill="#1e1e1e" stroke="#1e1e1e">)</text>
<text x="183.15" y="336.45" font-size="9.7" text-anchor="middle" fill="#1e1e1e" stroke="#1e1e1e">SMisD</text>
<text x="164.16" y="347.20" font-size="9.7" fill="#1e1e1e" stroke="#1e1e1e">(</text>
<path d="M170.16,346.80L170.16,342.20M168.17,345.65L172.15,343.35M172.15,345.65L168.17,343.35" stroke="#64a864" stroke-width="1.0" stroke-linecap="round" fill="none"/>
<path d="M175.71,346.80L175.71,342.20M173.72,345.65L177.70,343.35M177.70,345.65L173.72,343.35" stroke="#64a864" stroke-width="1.0" stroke-linecap="round" fill="none"/>
<path d="M181.26,346.80L181.26,342.20M179.27,345.65L183.25,343.35M183.25,345.65L179.27,343.35" stroke="#64a864" stroke-width="1.0" stroke-linecap="round" fill="none"/>
<text x="184.04" y="347.20" font-size="9.7" fill="#1e1e1e" stroke="#1e1e1e">,</text>
<path d="M189.24,346.80L189.24,342.20M187.25,345.65L191.23,343.35M191.23,345.65L187.25,343.35" stroke="#e8687f" stroke-width="1.0" stroke-linecap="round" fill="none"/>
<path d="M194.79,346.80L194.79,342.20M192.80,345.65L196.78,343.35M196.78,345.65L192.80,343.35" stroke="#e8687f" stroke-width="1.0" stroke-linecap="round" fill="none"/>
<path d="M200.34,346.80L200.34,342.20M198.35,345.65L202.33,343.35M202.33,345.65L198.35,343.35" stroke="#e8687f" stroke-width="1.0" stroke-linecap="round" fill="none"/>
<text x="203.11" y="347.20" font-size="9.7" fill="#1e1e1e" stroke="#1e1e1e">)</text>
<text x="120.55" y="362.30" font-size="9.7" text-anchor="middle" fill="#1e1e1e" stroke="#1e1e1e">Comprehensiveness</text>
<text x="161.64" y="362.30" font-size="9.7" fill="#1e1e1e" stroke="#1e1e1e">(</text>
<path d="M167.65,361.90L167.65,357.30M165.66,360.75L169.64,358.45M169.64,360.75L165.66,358.45" stroke="#64a864" stroke-width="1.0" stroke-linecap="round" fill="none"/>
<path d="M173.20,361.90L173.20,357.30M171.21,360.75L175.19,358.45M175.19,360.75L171.21,358.45" stroke="#64a864" stroke-width="1.0" stroke-linecap="round" fill="none"/>
<path d="M178.75,361.90L178.75,357.30M176.76,360.75L180.74,358.45M180.74,360.75L176.76,358.45" stroke="#64a864" stroke-width="1.0" stroke-linecap="round" fill="none"/>
<text x="181.52" y="362.30" font-size="9.7" fill="#1e1e1e" stroke="#1e1e1e">, </text>
<path d="M189.15,361.90L189.15,357.30M187.16,360.75L191.14,358.45M191.14,360.75L187.16,358.45" stroke="#e8687f" stroke-width="1.0" stroke-linecap="round" fill="none"/>
<path d="M194.70,361.90L194.70,357.30M192.71,360.75L196.69,358.45M196.69,360.75L192.71,358.45" stroke="#e8687f" stroke-width="1.0" stroke-linecap="round" fill="none"/>
<path d="M200.25,361.90L200.25,357.30M198.26,360.75L202.24,358.45M202.24,360.75L198.26,358.45" stroke="#e8687f" stroke-width="1.0" stroke-linecap="round" fill="none"/>
<text x="203.02" y="362.30" font-size="9.7" fill="#1e1e1e" stroke="#1e1e1e">)</text>
<text x="45.55" y="336.60" font-size="9.7" text-anchor="middle" fill="#1e1e1e" stroke="#1e1e1e">Explainability</text>
<text x="21.96" y="349.30" font-size="9.7" fill="#1e1e1e" stroke="#1e1e1e">(</text>
<path d="M27.96,348.90L27.96,344.30M25.97,347.75L29.95,345.45M29.95,347.75L25.97,345.45" stroke="#64a864" stroke-width="1.0" stroke-linecap="round" fill="none"/>
<path d="M33.51,348.90L33.51,344.30M31.52,347.75L35.50,345.45M35.50,347.75L31.52,345.45" stroke="#64a864" stroke-width="1.0" stroke-linecap="round" fill="none"/>
<path d="M39.06,348.90L39.06,344.30M37.07,347.75L41.05,345.45M41.05,347.75L37.07,345.45" stroke="#64a864" stroke-width="1.0" stroke-linecap="round" fill="none"/>
<text x="41.84" y="349.30" font-size="9.7" fill="#1e1e1e" stroke="#1e1e1e">,</text>
<path d="M47.04,348.90L47.04,344.30M45.05,347.75L49.03,345.45M49.03,347.75L45.05,345.45" stroke="#e8687f" stroke-width="1.0" stroke-linecap="round" fill="none"/>
<path d="M52.59,348.90L52.59,344.30M50.60,347.75L54.58,345.45M54.58,347.75L50.60,345.45" stroke="#e8687f" stroke-width="1.0" stroke-linecap="round" fill="none"/>
<path d="M58.14,348.90L58.14,344.30M56.15,347.75L60.13,345.45M60.13,347.75L56.15,345.45" stroke="#e8687f" stroke-width="1.0" stroke-linecap="round" fill="none"/>
<text x="60.91" y="349.30" font-size="9.7" fill="#1e1e1e" stroke="#1e1e1e">)</text>
<text x="28.55" y="287.10" font-size="9.7" text-anchor="middle" fill="#1e1e1e" stroke="#1e1e1e">Conciseness</text>
<text x="5.96" y="298.20" font-size="9.7" fill="#1e1e1e" stroke="#1e1e1e">(</text>
<path d="M11.96,297.80L11.96,293.20M9.97,296.65L13.95,294.35M13.95,296.65L9.97,294.35" stroke="#64a864" stroke-width="1.0" stroke-linecap="round" fill="none"/>
<path d="M17.51,297.80L17.51,293.20M15.52,296.65L19.50,294.35M19.50,296.65L15.52,294.35" stroke="#64a864" stroke-width="1.0" stroke-linecap="round" fill="none"/>
<path d="M23.06,297.80L23.06,293.20M21.07,296.65L25.05,294.35M25.05,296.65L21.07,294.35" stroke="#64a864" stroke-width="1.0" stroke-linecap="round" fill="none"/>
<text x="25.84" y="298.20" font-size="9.7" fill="#1e1e1e" stroke="#1e1e1e">,</text>
<path d="M31.04,297.80L31.04,293.20M29.05,296.65L33.03,294.35M33.03,296.65L29.05,294.35" stroke="#e8687f" stroke-width="1.0" stroke-linecap="round" fill="none"/>
<path d="M36.59,297.80L36.59,293.20M34.60,296.65L38.58,294.35M38.58,296.65L34.60,294.35" stroke="#e8687f" stroke-width="1.0" stroke-linecap="round" fill="none"/>
<path d="M42.14,297.80L42.14,293.20M40.15,296.65L44.13,294.35M44.13,296.65L40.15,294.35" stroke="#e8687f" stroke-width="1.0" stroke-linecap="round" fill="none"/>
<text x="44.91" y="298.20" font-size="9.7" fill="#1e1e1e" stroke="#1e1e1e">)</text>
<text x="45.95" y="238.70" font-size="9.7" text-anchor="middle" fill="#1e1e1e" stroke="#1e1e1e">Unbiasedness</text>
<text x="22.36" y="249.40" font-size="9.7" fill="#1e1e1e" stroke="#1e1e1e">(</text>
<path d="M28.36,249.00L28.36,244.40M26.37,247.85L30.35,245.55M30.35,247.85L26.37,245.55" stroke="#64a864" stroke-width="1.0" stroke-linecap="round" fill="none"/>
<path d="M33.91,249.00L33.91,244.40M31.92,247.85L35.90,245.55M35.90,247.85L31.92,245.55" stroke="#64a864" stroke-width="1.0" stroke-linecap="round" fill="none"/>
<path d="M39.46,249.00L39.46,244.40M37.47,247.85L41.45,245.55M41.45,247.85L37.47,245.55" stroke="#64a864" stroke-width="1.0" stroke-linecap="round" fill="none"/>
<text x="42.24" y="249.40" font-size="9.7" fill="#1e1e1e" stroke="#1e1e1e">,</text>
<path d="M47.44,249.00L47.44,244.40M45.45,247.85L49.43,245.55M49.43,247.85L45.45,245.55" stroke="#e8687f" stroke-width="1.0" stroke-linecap="round" fill="none"/>
<path d="M52.99,249.00L52.99,244.40M51.00,247.85L54.98,245.55M54.98,247.85L51.00,245.55" stroke="#e8687f" stroke-width="1.0" stroke-linecap="round" fill="none"/>
<path d="M58.54,249.00L58.54,244.40M56.55,247.85L60.53,245.55M60.53,247.85L56.55,245.55" stroke="#e8687f" stroke-width="1.0" stroke-linecap="round" fill="none"/>
<text x="61.31" y="249.40" font-size="9.7" fill="#1e1e1e" stroke="#1e1e1e">)</text>
<text x="123.05" y="381.20" font-size="13.2" text-anchor="middle" fill="#1e1e1e" stroke="#1e1e1e">(d)</text>
<polygon points="348.70,270.04 357.99,273.92 361.84,283.30 357.99,292.68 348.70,296.56 339.41,292.68 335.56,283.30 339.41,273.92" fill="none" stroke="#dcdcdc" stroke-width="0.7"/>
<polygon points="348.70,256.78 367.28,264.55 374.98,283.30 367.28,302.05 348.70,309.82 330.12,302.05 322.42,283.30 330.12,264.55" fill="none" stroke="#dcdcdc" stroke-width="0.7"/>
<polygon points="348.70,243.52 376.57,255.17 388.12,283.30 376.57,311.43 348.70,323.08 320.83,311.43 309.28,283.30 320.83,255.17" fill="none" stroke="#dcdcdc" stroke-width="0.7"/>
<polygon points="348.70,230.26 385.87,245.80 401.26,283.30 385.87,320.80 348.70,336.34 311.53,320.80 296.14,283.30 311.53,245.80" fill="none" stroke="#dcdcdc" stroke-width="0.7"/>
<polygon points="348.70,217.00 395.16,236.42 414.40,283.30 395.16,330.18 348.70,349.60 302.24,330.18 283.00,283.30 302.24,236.42" fill="none" stroke="#dcdcdc" stroke-width="0.7"/>
<text x="340.90" y="286.30" font-size="8.0" text-anchor="end" fill="#1e1e1e" stroke="#1e1e1e">0</text>
<text x="340.90" y="273.04" font-size="8.0" text-anchor="end" fill="#1e1e1e" stroke="#1e1e1e">0.2</text>
<text x="340.90" y="259.78" font-size="8.0" text-anchor="end" fill="#1e1e1e" stroke="#1e1e1e">0.4</text>
<text x="340.90" y="246.52" font-size="8.0" text-anchor="end" fill="#1e1e1e" stroke="#1e1e1e">0.6</text>
<text x="340.90" y="233.26" font-size="8.0" text-anchor="end" fill="#1e1e1e" stroke="#1e1e1e">0.8</text>
<text x="340.90" y="220.00" font-size="8.0" text-anchor="end" fill="#1e1e1e" stroke="#1e1e1e">1</text>
<polygon points="348.70,217.66 394.92,236.65 414.40,283.30 392.83,327.84 348.70,340.32 306.89,325.49 313.62,283.30 307.82,242.04" fill="none" stroke="#4472d6" stroke-width="1.4" stroke-linejoin="miter"/>
<polygon points="348.70,220.12 389.12,242.51 413.74,283.30 391.44,326.43 348.70,337.20 309.68,322.68 285.17,283.30 310.61,244.86" fill="none" stroke="#6cc044" stroke-width="1.4" stroke-linejoin="miter"/>
<polygon points="348.70,218.79 390.51,241.11 414.40,283.30 391.90,326.90 348.70,339.79 309.21,323.15 288.39,283.30 309.68,243.92" fill="none" stroke="#e0344a" stroke-width="1.4" stroke-linejoin="miter"/>
<text x="338.50" y="211.95" font-size="9.7" fill="#1e1e1e" stroke="#1e1e1e">MPD</text>
<text x="361.92" y="211.95" font-size="9.7" fill="#1e1e1e" stroke="#1e1e1e">(</text>
<path d="M367.93,211.55L367.93,206.95M365.94,210.40L369.92,208.10M369.92,210.40L365.94,208.10" stroke="#64a864" stroke-width="1.0" stroke-linecap="round" fill="none"/>
<text x="370.70" y="211.95" font-size="9.7" fill="#1e1e1e" stroke="#1e1e1e">,</text>
<text x="373.13" y="211.95" font-size="9.7" fill="#e03548" stroke="#e03548">ns</text>
<text x="381.75" y="211.95" font-size="9.7" fill="#1e1e1e" stroke="#1e1e1e">)</text>
<text x="408.30" y="238.45" font-size="9.7" text-anchor="middle" fill="#1e1e1e" stroke="#1e1e1e">MSD</text>
<text x="406.88" y="248.05" font-size="9.7" fill="#1e1e1e" stroke="#1e1e1e">(</text>
<path d="M412.89,247.65L412.89,243.05M410.90,246.50L414.88,244.20M414.88,246.50L410.90,244.20" stroke="#64a864" stroke-width="1.0" stroke-linecap="round" fill="none"/>
<path d="M418.44,247.65L418.44,243.05M416.45,246.50L420.43,244.20M420.43,246.50L416.45,244.20" stroke="#64a864" stroke-width="1.0" stroke-linecap="round" fill="none"/>
<path d="M423.99,247.65L423.99,243.05M422.00,246.50L425.98,244.20M425.98,246.50L422.00,244.20" stroke="#64a864" stroke-width="1.0" stroke-linecap="round" fill="none"/>
<text x="426.76" y="248.05" font-size="9.7" fill="#1e1e1e" stroke="#1e1e1e">,</text>
<path d="M431.96,247.65L431.96,243.05M429.97,246.50L433.95,244.20M433.95,246.50L429.97,244.20" stroke="#e8687f" stroke-width="1.0" stroke-linecap="round" fill="none"/>
<path d="M437.51,247.65L437.51,243.05M435.52,246.50L439.50,244.20M439.50,246.50L435.52,244.20" stroke="#e8687f" stroke-width="1.0" stroke-linecap="round" fill="none"/>
<text x="440.29" y="248.05" font-size="9.7" fill="#1e1e1e" stroke="#1e1e1e">)</text>
<text x="432.00" y="286.45" font-size="9.7" text-anchor="middle" fill="#1e1e1e" stroke="#1e1e1e">PMisD</text>
<text x="413.94" y="296.35" font-size="9.7" fill="#1e1e1e" stroke="#1e1e1e">(</text>
<text x="417.17" y="296.35" font-size="9.7" fill="#3d8f3d" stroke="#3d8f3d">N/A</text>
<text x="433.88" y="296.35" font-size="9.7" fill="#1e1e1e" stroke="#1e1e1e">, </text>
<text x="438.73" y="296.35" font-size="9.7" fill="#e03548" stroke="#e03548">N/A</text>
<text x="455.43" y="296.35" font-size="9.7" fill="#1e1e1e" stroke="#1e1e1e">)</text>
<text x="411.50" y="335.95" font-size="9.7" text-anchor="middle" fill="#1e1e1e" stroke="#1e1e1e">SMisD</text>
<text x="397.82" y="346.15" font-size="9.7" fill="#1e1e1e" stroke="#1e1e1e">(</text>
<text x="401.05" y="346.15" font-size="9.7" fill="#3d8f3d" stroke="#3d8f3d">ns</text>
<text x="409.67" y="346.15" font-size="9.7" fill="#1e1e1e" stroke="#1e1e1e">, </text>
<text x="414.52" y="346.15" font-size="9.7" fill="#e03548" stroke="#e03548">ns</text>
<text x="423.15" y="346.15" font-size="9.7" fill="#1e1e1e" stroke="#1e1e1e">)</text>
<text x="349.30" y="363.05" font-size="9.7" text-anchor="middle" fill="#1e1e1e" stroke="#1e1e1e">Comprehensiveness</text>
<text x="390.89" y="363.05" font-size="9.7" fill="#1e1e1e" stroke="#1e1e1e">(</text>
<path d="M396.90,362.65L396.90,358.05M394.91,361.50L398.89,359.20M398.89,361.50L394.91,359.20" stroke="#64a864" stroke-width="1.0" stroke-linecap="round" fill="none"/>
<path d="M402.45,362.65L402.45,358.05M400.46,361.50L404.44,359.20M404.44,361.50L400.46,359.20" stroke="#64a864" stroke-width="1.0" stroke-linecap="round" fill="none"/>
<path d="M408.00,362.65L408.00,358.05M406.01,361.50L409.99,359.20M409.99,361.50L406.01,359.20" stroke="#64a864" stroke-width="1.0" stroke-linecap="round" fill="none"/>
<text x="410.77" y="363.05" font-size="9.7" fill="#1e1e1e" stroke="#1e1e1e">, </text>
<text x="415.62" y="363.05" font-size="9.7" fill="#e03548" stroke="#e03548">ns</text>
<text x="424.25" y="363.05" font-size="9.7" fill="#1e1e1e" stroke="#1e1e1e">)</text>
<text x="272.30" y="335.95" font-size="9.7" text-anchor="middle" fill="#1e1e1e" stroke="#1e1e1e">Explainability</text>
<text x="249.91" y="348.65" font-size="9.7" fill="#1e1e1e" stroke="#1e1e1e">(</text>
<path d="M255.91,348.25L255.91,343.65M253.92,347.10L257.90,344.80M257.90,347.10L253.92,344.80" stroke="#64a864" stroke-width="1.0" stroke-linecap="round" fill="none"/>
<path d="M261.46,348.25L261.46,343.65M259.47,347.10L263.45,344.80M263.45,347.10L259.47,344.80" stroke="#64a864" stroke-width="1.0" stroke-linecap="round" fill="none"/>
<path d="M267.01,348.25L267.01,343.65M265.02,347.10L269.00,344.80M269.00,347.10L265.02,344.80" stroke="#64a864" stroke-width="1.0" stroke-linecap="round" fill="none"/>
<text x="269.79" y="348.65" font-size="9.7" fill="#1e1e1e" stroke="#1e1e1e">,</text>
<path d="M274.99,348.25L274.99,343.65M273.00,347.10L276.98,344.80M276.98,347.10L273.00,344.80" stroke="#e8687f" stroke-width="1.0" stroke-linecap="round" fill="none"/>
<path d="M280.54,348.25L280.54,343.65M278.55,347.10L282.53,344.80M282.53,347.10L278.55,344.80" stroke="#e8687f" stroke-width="1.0" stroke-linecap="round" fill="none"/>
<path d="M286.09,348.25L286.09,343.65M284.10,347.10L288.08,344.80M288.08,347.10L284.10,344.80" stroke="#e8687f" stroke-width="1.0" stroke-linecap="round" fill="none"/>
<text x="288.86" y="348.65" font-size="9.7" fill="#1e1e1e" stroke="#1e1e1e">)</text>
<text x="256.30" y="286.65" font-size="9.7" text-anchor="middle" fill="#1e1e1e" stroke="#1e1e1e">Conciseness</text>
<text x="234.01" y="296.75" font-size="9.7" fill="#1e1e1e" stroke="#1e1e1e">(</text>
<path d="M240.01,296.35L240.01,291.75M238.02,295.20L242.00,292.90M242.00,295.20L238.02,292.90" stroke="#64a864" stroke-width="1.0" stroke-linecap="round" fill="none"/>
<path d="M245.56,296.35L245.56,291.75M243.57,295.20L247.55,292.90M247.55,295.20L243.57,292.90" stroke="#64a864" stroke-width="1.0" stroke-linecap="round" fill="none"/>
<path d="M251.11,296.35L251.11,291.75M249.12,295.20L253.10,292.90M253.10,295.20L249.12,292.90" stroke="#64a864" stroke-width="1.0" stroke-linecap="round" fill="none"/>
<text x="253.89" y="296.75" font-size="9.7" fill="#1e1e1e" stroke="#1e1e1e">,</text>
<path d="M259.09,296.35L259.09,291.75M257.10,295.20L261.08,292.90M261.08,295.20L257.10,292.90" stroke="#e8687f" stroke-width="1.0" stroke-linecap="round" fill="none"/>
<path d="M264.64,296.35L264.64,291.75M262.65,295.20L266.63,292.90M266.63,295.20L262.65,292.90" stroke="#e8687f" stroke-width="1.0" stroke-linecap="round" fill="none"/>
<path d="M270.19,296.35L270.19,291.75M268.20,295.20L272.18,292.90M272.18,295.20L268.20,292.90" stroke="#e8687f" stroke-width="1.0" stroke-linecap="round" fill="none"/>
<text x="272.96" y="296.75" font-size="9.7" fill="#1e1e1e" stroke="#1e1e1e">)</text>
<text x="273.70" y="237.45" font-size="9.7" text-anchor="middle" fill="#1e1e1e" stroke="#1e1e1e">Unbiasedness</text>
<text x="253.38" y="248.05" font-size="9.7" fill="#1e1e1e" stroke="#1e1e1e">(</text>
<path d="M259.39,247.65L259.39,243.05M257.40,246.50L261.38,244.20M261.38,246.50L257.40,244.20" stroke="#64a864" stroke-width="1.0" stroke-linecap="round" fill="none"/>
<path d="M264.94,247.65L264.94,243.05M262.95,246.50L266.93,244.20M266.93,246.50L262.95,244.20" stroke="#64a864" stroke-width="1.0" stroke-linecap="round" fill="none"/>
<path d="M270.49,247.65L270.49,243.05M268.50,246.50L272.48,244.20M272.48,246.50L268.50,244.20" stroke="#64a864" stroke-width="1.0" stroke-linecap="round" fill="none"/>
<text x="273.26" y="248.05" font-size="9.7" fill="#1e1e1e" stroke="#1e1e1e">,</text>
<path d="M278.46,247.65L278.46,243.05M276.47,246.50L280.45,244.20M280.45,246.50L276.47,244.20" stroke="#e8687f" stroke-width="1.0" stroke-linecap="round" fill="none"/>
<path d="M284.01,247.65L284.01,243.05M282.02,246.50L286.00,244.20M286.00,246.50L282.02,244.20" stroke="#e8687f" stroke-width="1.0" stroke-linecap="round" fill="none"/>
<text x="286.79" y="248.05" font-size="9.7" fill="#1e1e1e" stroke="#1e1e1e">)</text>
<text x="352.20" y="379.75" font-size="13.2" text-anchor="middle" fill="#1e1e1e" stroke="#1e1e1e">(e)</text>
<polygon points="573.80,269.50 582.95,273.37 586.74,282.70 582.95,292.03 573.80,295.90 564.65,292.03 560.86,282.70 564.65,273.37" fill="none" stroke="#dcdcdc" stroke-width="0.7"/>
<polygon points="573.80,256.30 592.10,264.03 599.68,282.70 592.10,301.37 573.80,309.10 555.50,301.37 547.92,282.70 555.50,264.03" fill="none" stroke="#dcdcdc" stroke-width="0.7"/>
<polygon points="573.80,243.10 601.25,254.70 612.62,282.70 601.25,310.70 573.80,322.30 546.35,310.70 534.98,282.70 546.35,254.70" fill="none" stroke="#dcdcdc" stroke-width="0.7"/>
<polygon points="573.80,229.90 610.40,245.36 625.56,282.70 610.40,320.04 573.80,335.50 537.20,320.04 522.04,282.70 537.20,245.36" fill="none" stroke="#dcdcdc" stroke-width="0.7"/>
<polygon points="573.80,216.70 619.55,236.03 638.50,282.70 619.55,329.37 573.80,348.70 528.05,329.37 509.10,282.70 528.05,236.03" fill="none" stroke="#dcdcdc" stroke-width="0.7"/>
<text x="566.00" y="285.70" font-size="8.0" text-anchor="end" fill="#1e1e1e" stroke="#1e1e1e">0</text>
<text x="566.00" y="272.50" font-size="8.0" text-anchor="end" fill="#1e1e1e" stroke="#1e1e1e">0.2</text>
<text x="566.00" y="259.30" font-size="8.0" text-anchor="end" fill="#1e1e1e" stroke="#1e1e1e">0.4</text>
<text x="566.00" y="246.10" font-size="8.0" text-anchor="end" fill="#1e1e1e" stroke="#1e1e1e">0.6</text>
<text x="566.00" y="232.90" font-size="8.0" text-anchor="end" fill="#1e1e1e" stroke="#1e1e1e">0.8</text>
<text x="566.00" y="219.70" font-size="8.0" text-anchor="end" fill="#1e1e1e" stroke="#1e1e1e">1</text>
<polygon points="573.80,217.23 619.09,236.50 638.50,282.70 617.67,327.46 573.80,340.52 530.38,326.99 538.86,282.70 532.67,240.74" fill="none" stroke="#4472d6" stroke-width="1.4" stroke-linejoin="miter"/>
<polygon points="573.80,218.81 609.39,246.39 637.21,282.70 614.01,323.72 573.80,338.27 533.13,324.19 511.30,282.70 535.46,243.59" fill="none" stroke="#6cc044" stroke-width="1.4" stroke-linejoin="miter"/>
<polygon points="573.80,217.82 616.76,238.88 638.50,282.70 615.39,325.12 573.80,342.10 531.98,325.36 514.47,282.70 534.04,242.14" fill="none" stroke="#e0344a" stroke-width="1.4" stroke-linejoin="miter"/>
<text x="562.90" y="211.60" font-size="9.7" fill="#1e1e1e" stroke="#1e1e1e">MPD</text>
<text x="585.02" y="211.60" font-size="9.7" fill="#1e1e1e" stroke="#1e1e1e">(</text>
<text x="588.25" y="211.60" font-size="9.7" fill="#3d8f3d" stroke="#3d8f3d">ns</text>
<text x="596.88" y="211.60" font-size="9.7" fill="#1e1e1e" stroke="#1e1e1e">, </text>
<text x="601.73" y="211.60" font-size="9.7" fill="#e03548" stroke="#e03548">ns</text>
<text x="610.35" y="211.60" font-size="9.7" fill="#1e1e1e" stroke="#1e1e1e">)</text>
<text x="632.40" y="237.50" font-size="9.7" text-anchor="middle" fill="#1e1e1e" stroke="#1e1e1e">MSD</text>
<text x="629.46" y="246.70" font-size="9.7" fill="#1e1e1e" stroke="#1e1e1e">(</text>
<path d="M635.46,246.30L635.46,241.70M633.47,245.15L637.45,242.85M637.45,245.15L633.47,242.85" stroke="#64a864" stroke-width="1.0" stroke-linecap="round" fill="none"/>
<path d="M641.01,246.30L641.01,241.70M639.02,245.15L643.00,242.85M643.00,245.15L639.02,242.85" stroke="#64a864" stroke-width="1.0" stroke-linecap="round" fill="none"/>
<path d="M646.56,246.30L646.56,241.70M644.57,245.15L648.55,242.85M648.55,245.15L644.57,242.85" stroke="#64a864" stroke-width="1.0" stroke-linecap="round" fill="none"/>
<text x="649.34" y="246.70" font-size="9.7" fill="#1e1e1e" stroke="#1e1e1e">,</text>
<path d="M654.54,246.30L654.54,241.70M652.55,245.15L656.53,242.85M656.53,245.15L652.55,242.85" stroke="#e8687f" stroke-width="1.0" stroke-linecap="round" fill="none"/>
<text x="657.31" y="246.70" font-size="9.7" fill="#1e1e1e" stroke="#1e1e1e">)</text>
<text x="655.70" y="286.30" font-size="9.7" text-anchor="middle" fill="#1e1e1e" stroke="#1e1e1e">PMisD</text>
<text x="642.08" y="295.30" font-size="9.7" fill="#1e1e1e" stroke="#1e1e1e">(</text>
<path d="M648.09,294.90L648.09,290.30M646.10,293.75L650.08,291.45M650.08,293.75L646.10,291.45" stroke="#64a864" stroke-width="1.0" stroke-linecap="round" fill="none"/>
<path d="M653.64,294.90L653.64,290.30M651.65,293.75L655.63,291.45M655.63,293.75L651.65,291.45" stroke="#64a864" stroke-width="1.0" stroke-linecap="round" fill="none"/>
<text x="656.41" y="295.30" font-size="9.7" fill="#1e1e1e" stroke="#1e1e1e">, </text>
<text x="661.26" y="295.30" font-size="9.7" fill="#e03548" stroke="#e03548">ns</text>
<text x="669.89" y="295.30" font-size="9.7" fill="#1e1e1e" stroke="#1e1e1e">)</text>
<text x="635.60" y="335.00" font-size="9.7" text-anchor="middle" fill="#1e1e1e" stroke="#1e1e1e">SMisD</text>
<text x="620.38" y="345.60" font-size="9.7" fill="#1e1e1e" stroke="#1e1e1e">(</text>
<path d="M626.39,345.20L626.39,340.60M624.40,344.05L628.38,341.75M628.38,344.05L624.40,341.75" stroke="#64a864" stroke-width="1.0" stroke-linecap="round" fill="none"/>
<path d="M631.94,345.20L631.94,340.60M629.95,344.05L633.93,341.75M633.93,344.05L629.95,341.75" stroke="#64a864" stroke-width="1.0" stroke-linecap="round" fill="none"/>
<path d="M637.49,345.20L637.49,340.60M635.50,344.05L639.48,341.75M639.48,344.05L635.50,341.75" stroke="#64a864" stroke-width="1.0" stroke-linecap="round" fill="none"/>
<text x="640.26" y="345.60" font-size="9.7" fill="#1e1e1e" stroke="#1e1e1e">,</text>
<path d="M645.46,345.20L645.46,340.60M643.47,344.05L647.45,341.75M647.45,344.05L643.47,341.75" stroke="#e8687f" stroke-width="1.0" stroke-linecap="round" fill="none"/>
<path d="M651.01,345.20L651.01,340.60M649.02,344.05L653.00,341.75M653.00,344.05L649.02,341.75" stroke="#e8687f" stroke-width="1.0" stroke-linecap="round" fill="none"/>
<text x="653.79" y="345.60" font-size="9.7" fill="#1e1e1e" stroke="#1e1e1e">)</text>
<text x="573.60" y="361.00" font-size="9.7" text-anchor="middle" fill="#1e1e1e" stroke="#1e1e1e">Comprehensiveness</text>
<text x="614.69" y="361.00" font-size="9.7" fill="#1e1e1e" stroke="#1e1e1e">(</text>
<path d="M620.70,360.60L620.70,356.00M618.71,359.45L622.69,357.15M622.69,359.45L618.71,357.15" stroke="#64a864" stroke-width="1.0" stroke-linecap="round" fill="none"/>
<path d="M626.25,360.60L626.25,356.00M624.26,359.45L628.24,357.15M628.24,359.45L624.26,357.15" stroke="#64a864" stroke-width="1.0" stroke-linecap="round" fill="none"/>
<path d="M631.80,360.60L631.80,356.00M629.81,359.45L633.79,357.15M633.79,359.45L629.81,357.15" stroke="#64a864" stroke-width="1.0" stroke-linecap="round" fill="none"/>
<text x="634.57" y="361.00" font-size="9.7" fill="#1e1e1e" stroke="#1e1e1e">, </text>
<text x="639.42" y="361.00" font-size="9.7" fill="#e03548" stroke="#e03548">ns</text>
<text x="648.05" y="361.00" font-size="9.7" fill="#1e1e1e" stroke="#1e1e1e">)</text>
<text x="498.50" y="335.00" font-size="9.7" text-anchor="middle" fill="#1e1e1e" stroke="#1e1e1e">Explainability</text>
<text x="475.21" y="348.10" font-size="9.7" fill="#1e1e1e" stroke="#1e1e1e">(</text>
<path d="M481.21,347.70L481.21,343.10M479.22,346.55L483.20,344.25M483.20,346.55L479.22,344.25" stroke="#64a864" stroke-width="1.0" stroke-linecap="round" fill="none"/>
<path d="M486.76,347.70L486.76,343.10M484.77,346.55L488.75,344.25M488.75,346.55L484.77,344.25" stroke="#64a864" stroke-width="1.0" stroke-linecap="round" fill="none"/>
<path d="M492.31,347.70L492.31,343.10M490.32,346.55L494.30,344.25M494.30,346.55L490.32,344.25" stroke="#64a864" stroke-width="1.0" stroke-linecap="round" fill="none"/>
<text x="495.09" y="348.10" font-size="9.7" fill="#1e1e1e" stroke="#1e1e1e">,</text>
<path d="M500.29,347.70L500.29,343.10M498.30,346.55L502.28,344.25M502.28,346.55L498.30,344.25" stroke="#e8687f" stroke-width="1.0" stroke-linecap="round" fill="none"/>
<path d="M505.84,347.70L505.84,343.10M503.85,346.55L507.83,344.25M507.83,346.55L503.85,344.25" stroke="#e8687f" stroke-width="1.0" stroke-linecap="round" fill="none"/>
<path d="M511.39,347.70L511.39,343.10M509.40,346.55L513.38,344.25M513.38,346.55L509.40,344.25" stroke="#e8687f" stroke-width="1.0" stroke-linecap="round" fill="none"/>
<text x="514.16" y="348.10" font-size="9.7" fill="#1e1e1e" stroke="#1e1e1e">)</text>
<text x="481.60" y="286.50" font-size="9.7" text-anchor="middle" fill="#1e1e1e" stroke="#1e1e1e">Conciseness</text>
<text x="463.51" y="296.00" font-size="9.7" fill="#1e1e1e" stroke="#1e1e1e">(</text>
<path d="M469.51,295.60L469.51,291.00M467.52,294.45L471.50,292.15M471.50,294.45L467.52,292.15" stroke="#64a864" stroke-width="1.0" stroke-linecap="round" fill="none"/>
<path d="M475.06,295.60L475.06,291.00M473.07,294.45L477.05,292.15M477.05,294.45L473.07,292.15" stroke="#64a864" stroke-width="1.0" stroke-linecap="round" fill="none"/>
<path d="M480.61,295.60L480.61,291.00M478.62,294.45L482.60,292.15M482.60,294.45L478.62,292.15" stroke="#64a864" stroke-width="1.0" stroke-linecap="round" fill="none"/>
<text x="483.39" y="296.00" font-size="9.7" fill="#1e1e1e" stroke="#1e1e1e">,</text>
<path d="M488.59,295.60L488.59,291.00M486.60,294.45L490.58,292.15M490.58,294.45L486.60,292.15" stroke="#e8687f" stroke-width="1.0" stroke-linecap="round" fill="none"/>
<path d="M494.14,295.60L494.14,291.00M492.15,294.45L496.13,292.15M496.13,294.45L492.15,292.15" stroke="#e8687f" stroke-width="1.0" stroke-linecap="round" fill="none"/>
<path d="M499.69,295.60L499.69,291.00M497.70,294.45L501.68,292.15M501.68,294.45L497.70,292.15" stroke="#e8687f" stroke-width="1.0" stroke-linecap="round" fill="none"/>
<text x="502.46" y="296.00" font-size="9.7" fill="#1e1e1e" stroke="#1e1e1e">)</text>
<text x="498.70" y="236.90" font-size="9.7" text-anchor="middle" fill="#1e1e1e" stroke="#1e1e1e">Unbiasedness</text>
<text x="475.21" y="247.50" font-size="9.7" fill="#1e1e1e" stroke="#1e1e1e">(</text>
<path d="M481.21,247.10L481.21,242.50M479.22,245.95L483.20,243.65M483.20,245.95L479.22,243.65" stroke="#64a864" stroke-width="1.0" stroke-linecap="round" fill="none"/>
<path d="M486.76,247.10L486.76,242.50M484.77,245.95L488.75,243.65M488.75,245.95L484.77,243.65" stroke="#64a864" stroke-width="1.0" stroke-linecap="round" fill="none"/>
<path d="M492.31,247.10L492.31,242.50M490.32,245.95L494.30,243.65M494.30,245.95L490.32,243.65" stroke="#64a864" stroke-width="1.0" stroke-linecap="round" fill="none"/>
<text x="495.09" y="247.50" font-size="9.7" fill="#1e1e1e" stroke="#1e1e1e">,</text>
<path d="M500.29,247.10L500.29,242.50M498.30,245.95L502.28,243.65M502.28,245.95L498.30,243.65" stroke="#e8687f" stroke-width="1.0" stroke-linecap="round" fill="none"/>
<path d="M505.84,247.10L505.84,242.50M503.85,245.95L507.83,243.65M507.83,245.95L503.85,243.65" stroke="#e8687f" stroke-width="1.0" stroke-linecap="round" fill="none"/>
<path d="M511.39,247.10L511.39,242.50M509.40,245.95L513.38,243.65M513.38,245.95L509.40,243.65" stroke="#e8687f" stroke-width="1.0" stroke-linecap="round" fill="none"/>
<text x="514.16" y="247.50" font-size="9.7" fill="#1e1e1e" stroke="#1e1e1e">)</text>
<text x="576.40" y="379.30" font-size="13.2" text-anchor="middle" fill="#1e1e1e" stroke="#1e1e1e">(f)</text>
<polygon points="120.90,476.57 130.06,480.43 133.86,489.75 130.06,499.07 120.90,502.93 111.74,499.07 107.94,489.75 111.74,480.43" fill="none" stroke="#dcdcdc" stroke-width="0.7"/>
<polygon points="120.90,463.39 139.23,471.11 146.82,489.75 139.23,508.39 120.90,516.11 102.57,508.39 94.98,489.75 102.57,471.11" fill="none" stroke="#dcdcdc" stroke-width="0.7"/>
<polygon points="120.90,450.21 148.39,461.79 159.78,489.75 148.39,517.71 120.90,529.29 93.41,517.71 82.02,489.75 93.41,461.79" fill="none" stroke="#dcdcdc" stroke-width="0.7"/>
<polygon points="120.90,437.03 157.56,452.47 172.74,489.75 157.56,527.03 120.90,542.47 84.24,527.03 69.06,489.75 84.24,452.47" fill="none" stroke="#dcdcdc" stroke-width="0.7"/>
<polygon points="120.90,423.85 166.72,443.15 185.70,489.75 166.72,536.35 120.90,555.65 75.08,536.35 56.10,489.75 75.08,443.15" fill="none" stroke="#dcdcdc" stroke-width="0.7"/>
<text x="113.10" y="492.75" font-size="8.0" text-anchor="end" fill="#1e1e1e" stroke="#1e1e1e">0</text>
<text x="113.10" y="479.57" font-size="8.0" text-anchor="end" fill="#1e1e1e" stroke="#1e1e1e">0.2</text>
<text x="113.10" y="466.39" font-size="8.0" text-anchor="end" fill="#1e1e1e" stroke="#1e1e1e">0.4</text>
<text x="113.10" y="453.21" font-size="8.0" text-anchor="end" fill="#1e1e1e" stroke="#1e1e1e">0.6</text>
<text x="113.10" y="440.03" font-size="8.0" text-anchor="end" fill="#1e1e1e" stroke="#1e1e1e">0.8</text>
<text x="113.10" y="426.85" font-size="8.0" text-anchor="end" fill="#1e1e1e" stroke="#1e1e1e">1</text>
<polygon points="120.90,424.18 165.90,443.99 185.70,489.75 164.52,534.11 120.90,547.28 77.74,533.65 86.30,489.75 79.57,447.72" fill="none" stroke="#4472d6" stroke-width="1.4" stroke-linejoin="miter"/>
<polygon points="120.90,426.02 157.65,452.38 185.05,489.75 159.48,528.99 120.90,544.51 80.94,530.38 59.73,489.75 83.24,451.45" fill="none" stroke="#6cc044" stroke-width="1.4" stroke-linejoin="miter"/>
<polygon points="120.90,425.37 163.15,446.79 185.70,489.75 157.65,527.12 120.90,546.29 80.94,530.38 62.32,489.75 82.78,450.98" fill="none" stroke="#e0344a" stroke-width="1.4" stroke-linejoin="miter"/>
<text x="110.60" y="419.00" font-size="9.7" fill="#1e1e1e" stroke="#1e1e1e">MPD</text>
<text x="133.62" y="419.00" font-size="9.7" fill="#1e1e1e" stroke="#1e1e1e">(</text>
<path d="M139.63,418.60L139.63,414.00M137.64,417.45L141.62,415.15M141.62,417.45L137.64,415.15" stroke="#64a864" stroke-width="1.0" stroke-linecap="round" fill="none"/>
<text x="142.40" y="419.00" font-size="9.7" fill="#1e1e1e" stroke="#1e1e1e">,</text>
<path d="M147.60,418.60L147.60,414.00M145.61,417.45L149.60,415.15M149.60,417.45L145.61,415.15" stroke="#e8687f" stroke-width="1.0" stroke-linecap="round" fill="none"/>
<path d="M153.15,418.60L153.15,414.00M151.16,417.45L155.15,415.15M155.15,417.45L151.16,415.15" stroke="#e8687f" stroke-width="1.0" stroke-linecap="round" fill="none"/>
<text x="155.93" y="419.00" font-size="9.7" fill="#1e1e1e" stroke="#1e1e1e">)</text>
<text x="179.50" y="444.10" font-size="9.7" text-anchor="middle" fill="#1e1e1e" stroke="#1e1e1e">MSD</text>
<text x="180.11" y="452.30" font-size="9.7" fill="#1e1e1e" stroke="#1e1e1e">(</text>
<path d="M186.11,451.90L186.11,447.30M184.12,450.75L188.10,448.45M188.10,450.75L184.12,448.45" stroke="#64a864" stroke-width="1.0" stroke-linecap="round" fill="none"/>
<path d="M191.66,451.90L191.66,447.30M189.67,450.75L193.65,448.45M193.65,450.75L189.67,448.45" stroke="#64a864" stroke-width="1.0" stroke-linecap="round" fill="none"/>
<path d="M197.21,451.90L197.21,447.30M195.22,450.75L199.20,448.45M199.20,450.75L195.22,448.45" stroke="#64a864" stroke-width="1.0" stroke-linecap="round" fill="none"/>
<text x="199.99" y="452.30" font-size="9.7" fill="#1e1e1e" stroke="#1e1e1e">,</text>
<path d="M205.19,451.90L205.19,447.30M203.20,450.75L207.18,448.45M207.18,450.75L203.20,448.45" stroke="#e8687f" stroke-width="1.0" stroke-linecap="round" fill="none"/>
<path d="M210.74,451.90L210.74,447.30M208.75,450.75L212.73,448.45M212.73,450.75L208.75,448.45" stroke="#e8687f" stroke-width="1.0" stroke-linecap="round" fill="none"/>
<path d="M216.29,451.90L216.29,447.30M214.30,450.75L218.28,448.45M218.28,450.75L214.30,448.45" stroke="#e8687f" stroke-width="1.0" stroke-linecap="round" fill="none"/>
<text x="219.06" y="452.30" font-size="9.7" fill="#1e1e1e" stroke="#1e1e1e">)</text>
<text x="202.70" y="493.50" font-size="9.7" text-anchor="middle" fill="#1e1e1e" stroke="#1e1e1e">PMisD</text>
<text x="189.36" y="501.40" font-size="9.7" fill="#1e1e1e" stroke="#1e1e1e">(</text>
<path d="M195.36,501.00L195.36,496.40M193.37,499.85L197.35,497.55M197.35,499.85L193.37,497.55" stroke="#64a864" stroke-width="1.0" stroke-linecap="round" fill="none"/>
<text x="198.14" y="501.40" font-size="9.7" fill="#1e1e1e" stroke="#1e1e1e">, </text>
<text x="202.99" y="501.40" font-size="9.7" fill="#e03548" stroke="#e03548">ns</text>
<text x="211.61" y="501.40" font-size="9.7" fill="#1e1e1e" stroke="#1e1e1e">)</text>
<text x="182.90" y="542.20" font-size="9.7" text-anchor="middle" fill="#1e1e1e" stroke="#1e1e1e">SMisD</text>
<text x="168.21" y="552.20" font-size="9.7" fill="#1e1e1e" stroke="#1e1e1e">(</text>
<path d="M174.21,551.80L174.21,547.20M172.22,550.65L176.20,548.35M176.20,550.65L172.22,548.35" stroke="#64a864" stroke-width="1.0" stroke-linecap="round" fill="none"/>
<path d="M179.76,551.80L179.76,547.20M177.77,550.65L181.75,548.35M181.75,550.65L177.77,548.35" stroke="#64a864" stroke-width="1.0" stroke-linecap="round" fill="none"/>
<path d="M185.31,551.80L185.31,547.20M183.32,550.65L187.30,548.35M187.30,550.65L183.32,548.35" stroke="#64a864" stroke-width="1.0" stroke-linecap="round" fill="none"/>
<text x="188.09" y="552.20" font-size="9.7" fill="#1e1e1e" stroke="#1e1e1e">,</text>
<path d="M193.29,551.80L193.29,547.20M191.30,550.65L195.28,548.35M195.28,550.65L191.30,548.35" stroke="#e8687f" stroke-width="1.0" stroke-linecap="round" fill="none"/>
<path d="M198.84,551.80L198.84,547.20M196.85,550.65L200.83,548.35M200.83,550.65L196.85,548.35" stroke="#e8687f" stroke-width="1.0" stroke-linecap="round" fill="none"/>
<path d="M204.39,551.80L204.39,547.20M202.40,550.65L206.38,548.35M206.38,550.65L202.40,548.35" stroke="#e8687f" stroke-width="1.0" stroke-linecap="round" fill="none"/>
<text x="207.16" y="552.20" font-size="9.7" fill="#1e1e1e" stroke="#1e1e1e">)</text>
<text x="121.00" y="567.20" font-size="9.7" text-anchor="middle" fill="#1e1e1e" stroke="#1e1e1e">Comprehensiveness</text>
<text x="162.59" y="567.20" font-size="9.7" fill="#1e1e1e" stroke="#1e1e1e">(</text>
<path d="M168.60,566.80L168.60,562.20M166.61,565.65L170.59,563.35M170.59,565.65L166.61,563.35" stroke="#64a864" stroke-width="1.0" stroke-linecap="round" fill="none"/>
<path d="M174.15,566.80L174.15,562.20M172.16,565.65L176.14,563.35M176.14,565.65L172.16,563.35" stroke="#64a864" stroke-width="1.0" stroke-linecap="round" fill="none"/>
<path d="M179.70,566.80L179.70,562.20M177.71,565.65L181.69,563.35M181.69,565.65L177.71,563.35" stroke="#64a864" stroke-width="1.0" stroke-linecap="round" fill="none"/>
<text x="182.47" y="567.20" font-size="9.7" fill="#1e1e1e" stroke="#1e1e1e">, </text>
<path d="M190.10,566.80L190.10,562.20M188.11,565.65L192.09,563.35M192.09,565.65L188.11,563.35" stroke="#e8687f" stroke-width="1.0" stroke-linecap="round" fill="none"/>
<text x="192.87" y="567.20" font-size="9.7" fill="#1e1e1e" stroke="#1e1e1e">)</text>
<text x="45.20" y="542.00" font-size="9.7" text-anchor="middle" fill="#1e1e1e" stroke="#1e1e1e">Explainability</text>
<text x="26.01" y="553.10" font-size="9.7" fill="#1e1e1e" stroke="#1e1e1e">(</text>
<path d="M32.01,552.70L32.01,548.10M30.02,551.55L34.00,549.25M34.00,551.55L30.02,549.25" stroke="#64a864" stroke-width="1.0" stroke-linecap="round" fill="none"/>
<path d="M37.56,552.70L37.56,548.10M35.57,551.55L39.55,549.25M39.55,551.55L35.57,549.25" stroke="#64a864" stroke-width="1.0" stroke-linecap="round" fill="none"/>
<path d="M43.11,552.70L43.11,548.10M41.12,551.55L45.10,549.25M45.10,551.55L41.12,549.25" stroke="#64a864" stroke-width="1.0" stroke-linecap="round" fill="none"/>
<text x="45.89" y="553.10" font-size="9.7" fill="#1e1e1e" stroke="#1e1e1e">,</text>
<path d="M51.09,552.70L51.09,548.10M49.10,551.55L53.08,549.25M53.08,551.55L49.10,549.25" stroke="#e8687f" stroke-width="1.0" stroke-linecap="round" fill="none"/>
<path d="M56.64,552.70L56.64,548.10M54.65,551.55L58.63,549.25M58.63,551.55L54.65,549.25" stroke="#e8687f" stroke-width="1.0" stroke-linecap="round" fill="none"/>
<path d="M62.19,552.70L62.19,548.10M60.20,551.55L64.18,549.25M64.18,551.55L60.20,549.25" stroke="#e8687f" stroke-width="1.0" stroke-linecap="round" fill="none"/>
<text x="64.96" y="553.10" font-size="9.7" fill="#1e1e1e" stroke="#1e1e1e">)</text>
<text x="28.50" y="492.50" font-size="9.7" text-anchor="middle" fill="#1e1e1e" stroke="#1e1e1e">Conciseness</text>
<text x="9.61" y="502.00" font-size="9.7" fill="#1e1e1e" stroke="#1e1e1e">(</text>
<path d="M15.61,501.60L15.61,497.00M13.62,500.45L17.60,498.15M17.60,500.45L13.62,498.15" stroke="#64a864" stroke-width="1.0" stroke-linecap="round" fill="none"/>
<path d="M21.16,501.60L21.16,497.00M19.17,500.45L23.15,498.15M23.15,500.45L19.17,498.15" stroke="#64a864" stroke-width="1.0" stroke-linecap="round" fill="none"/>
<path d="M26.71,501.60L26.71,497.00M24.72,500.45L28.70,498.15M28.70,500.45L24.72,498.15" stroke="#64a864" stroke-width="1.0" stroke-linecap="round" fill="none"/>
<text x="29.49" y="502.00" font-size="9.7" fill="#1e1e1e" stroke="#1e1e1e">,</text>
<path d="M34.69,501.60L34.69,497.00M32.70,500.45L36.68,498.15M36.68,500.45L32.70,498.15" stroke="#e8687f" stroke-width="1.0" stroke-linecap="round" fill="none"/>
<path d="M40.24,501.60L40.24,497.00M38.25,500.45L42.23,498.15M42.23,500.45L38.25,498.15" stroke="#e8687f" stroke-width="1.0" stroke-linecap="round" fill="none"/>
<path d="M45.79,501.60L45.79,497.00M43.80,500.45L47.78,498.15M47.78,500.45L43.80,498.15" stroke="#e8687f" stroke-width="1.0" stroke-linecap="round" fill="none"/>
<text x="48.56" y="502.00" font-size="9.7" fill="#1e1e1e" stroke="#1e1e1e">)</text>
<text x="46.10" y="443.50" font-size="9.7" text-anchor="middle" fill="#1e1e1e" stroke="#1e1e1e">Unbiasedness</text>
<text x="26.21" y="454.10" font-size="9.7" fill="#1e1e1e" stroke="#1e1e1e">(</text>
<path d="M32.21,453.70L32.21,449.10M30.22,452.55L34.20,450.25M34.20,452.55L30.22,450.25" stroke="#64a864" stroke-width="1.0" stroke-linecap="round" fill="none"/>
<path d="M37.76,453.70L37.76,449.10M35.77,452.55L39.75,450.25M39.75,452.55L35.77,450.25" stroke="#64a864" stroke-width="1.0" stroke-linecap="round" fill="none"/>
<path d="M43.31,453.70L43.31,449.10M41.32,452.55L45.30,450.25M45.30,452.55L41.32,450.25" stroke="#64a864" stroke-width="1.0" stroke-linecap="round" fill="none"/>
<text x="46.09" y="454.10" font-size="9.7" fill="#1e1e1e" stroke="#1e1e1e">,</text>
<path d="M51.29,453.70L51.29,449.10M49.30,452.55L53.28,450.25M53.28,452.55L49.30,450.25" stroke="#e8687f" stroke-width="1.0" stroke-linecap="round" fill="none"/>
<path d="M56.84,453.70L56.84,449.10M54.85,452.55L58.83,450.25M58.83,452.55L54.85,450.25" stroke="#e8687f" stroke-width="1.0" stroke-linecap="round" fill="none"/>
<path d="M62.39,453.70L62.39,449.10M60.40,452.55L64.38,450.25M64.38,452.55L60.40,450.25" stroke="#e8687f" stroke-width="1.0" stroke-linecap="round" fill="none"/>
<text x="65.16" y="454.10" font-size="9.7" fill="#1e1e1e" stroke="#1e1e1e">)</text>
<text x="123.90" y="585.00" font-size="13.2" text-anchor="middle" fill="#1e1e1e" stroke="#1e1e1e">(g)</text>
<polygon points="348.60,476.45 357.76,480.32 361.56,489.65 357.76,498.98 348.60,502.85 339.44,498.98 335.64,489.65 339.44,480.32" fill="none" stroke="#dcdcdc" stroke-width="0.7"/>
<polygon points="348.60,463.25 366.93,470.98 374.52,489.65 366.93,508.32 348.60,516.05 330.27,508.32 322.68,489.65 330.27,470.98" fill="none" stroke="#dcdcdc" stroke-width="0.7"/>
<polygon points="348.60,450.05 376.09,461.65 387.48,489.65 376.09,517.65 348.60,529.25 321.11,517.65 309.72,489.65 321.11,461.65" fill="none" stroke="#dcdcdc" stroke-width="0.7"/>
<polygon points="348.60,436.85 385.26,452.31 400.44,489.65 385.26,526.99 348.60,542.45 311.94,526.99 296.76,489.65 311.94,452.31" fill="none" stroke="#dcdcdc" stroke-width="0.7"/>
<polygon points="348.60,423.65 394.42,442.98 413.40,489.65 394.42,536.32 348.60,555.65 302.78,536.32 283.80,489.65 302.78,442.98" fill="none" stroke="#dcdcdc" stroke-width="0.7"/>
<text x="340.80" y="492.65" font-size="8.0" text-anchor="end" fill="#1e1e1e" stroke="#1e1e1e">0</text>
<text x="340.80" y="479.45" font-size="8.0" text-anchor="end" fill="#1e1e1e" stroke="#1e1e1e">0.2</text>
<text x="340.80" y="466.25" font-size="8.0" text-anchor="end" fill="#1e1e1e" stroke="#1e1e1e">0.4</text>
<text x="340.80" y="453.05" font-size="8.0" text-anchor="end" fill="#1e1e1e" stroke="#1e1e1e">0.6</text>
<text x="340.80" y="439.85" font-size="8.0" text-anchor="end" fill="#1e1e1e" stroke="#1e1e1e">0.8</text>
<text x="340.80" y="426.65" font-size="8.0" text-anchor="end" fill="#1e1e1e" stroke="#1e1e1e">1</text>
<polygon points="348.60,424.31 392.13,445.31 413.40,489.65 389.38,531.19 348.60,548.79 305.30,533.75 314.00,489.65 306.22,446.48" fill="none" stroke="#4472d6" stroke-width="1.4" stroke-linejoin="miter"/>
<polygon points="348.60,425.83 388.46,449.05 412.43,489.65 385.26,526.99 348.60,547.27 308.05,530.95 286.33,489.65 309.19,449.51" fill="none" stroke="#6cc044" stroke-width="1.4" stroke-linejoin="miter"/>
<polygon points="348.60,424.77 392.13,445.31 413.40,489.65 384.34,526.05 348.60,549.05 307.59,531.42 287.69,489.65 309.19,449.51" fill="none" stroke="#e0344a" stroke-width="1.4" stroke-linejoin="miter"/>
<text x="338.10" y="419.05" font-size="9.7" fill="#1e1e1e" stroke="#1e1e1e">MPD</text>
<text x="359.82" y="419.05" font-size="9.7" fill="#1e1e1e" stroke="#1e1e1e">(</text>
<text x="363.05" y="419.05" font-size="9.7" fill="#3d8f3d" stroke="#3d8f3d">ns</text>
<text x="371.68" y="419.05" font-size="9.7" fill="#1e1e1e" stroke="#1e1e1e">, </text>
<text x="376.53" y="419.05" font-size="9.7" fill="#e03548" stroke="#e03548">ns</text>
<text x="385.15" y="419.05" font-size="9.7" fill="#1e1e1e" stroke="#1e1e1e">)</text>
<text x="407.20" y="444.15" font-size="9.7" text-anchor="middle" fill="#1e1e1e" stroke="#1e1e1e">MSD</text>
<text x="406.61" y="453.65" font-size="9.7" fill="#1e1e1e" stroke="#1e1e1e">(</text>
<path d="M412.61,453.25L412.61,448.65M410.62,452.10L414.60,449.80M414.60,452.10L410.62,449.80" stroke="#64a864" stroke-width="1.0" stroke-linecap="round" fill="none"/>
<path d="M418.16,453.25L418.16,448.65M416.17,452.10L420.15,449.80M420.15,452.10L416.17,449.80" stroke="#64a864" stroke-width="1.0" stroke-linecap="round" fill="none"/>
<path d="M423.71,453.25L423.71,448.65M421.72,452.10L425.70,449.80M425.70,452.10L421.72,449.80" stroke="#64a864" stroke-width="1.0" stroke-linecap="round" fill="none"/>
<text x="426.49" y="453.65" font-size="9.7" fill="#1e1e1e" stroke="#1e1e1e">, </text>
<text x="431.34" y="453.65" font-size="9.7" fill="#e03548" stroke="#e03548">ns</text>
<text x="439.96" y="453.65" font-size="9.7" fill="#1e1e1e" stroke="#1e1e1e">)</text>
<text x="430.90" y="492.95" font-size="9.7" text-anchor="middle" fill="#1e1e1e" stroke="#1e1e1e">PMisD</text>
<text x="411.74" y="502.45" font-size="9.7" fill="#1e1e1e" stroke="#1e1e1e">(</text>
<text x="414.97" y="502.45" font-size="9.7" fill="#3d8f3d" stroke="#3d8f3d">N/A</text>
<text x="431.68" y="502.45" font-size="9.7" fill="#1e1e1e" stroke="#1e1e1e">, </text>
<text x="436.53" y="502.45" font-size="9.7" fill="#e03548" stroke="#e03548">N/A</text>
<text x="453.23" y="502.45" font-size="9.7" fill="#1e1e1e" stroke="#1e1e1e">)</text>
<text x="410.60" y="542.25" font-size="9.7" text-anchor="middle" fill="#1e1e1e" stroke="#1e1e1e">SMisD</text>
<text x="391.41" y="553.05" font-size="9.7" fill="#1e1e1e" stroke="#1e1e1e">(</text>
<path d="M397.41,552.65L397.41,548.05M395.42,551.50L399.40,549.20M399.40,551.50L395.42,549.20" stroke="#64a864" stroke-width="1.0" stroke-linecap="round" fill="none"/>
<path d="M402.96,552.65L402.96,548.05M400.97,551.50L404.95,549.20M404.95,551.50L400.97,549.20" stroke="#64a864" stroke-width="1.0" stroke-linecap="round" fill="none"/>
<path d="M408.51,552.65L408.51,548.05M406.52,551.50L410.50,549.20M410.50,551.50L406.52,549.20" stroke="#64a864" stroke-width="1.0" stroke-linecap="round" fill="none"/>
<text x="411.29" y="553.05" font-size="9.7" fill="#1e1e1e" stroke="#1e1e1e">,</text>
<path d="M416.49,552.65L416.49,548.05M414.50,551.50L418.48,549.20M418.48,551.50L414.50,549.20" stroke="#e8687f" stroke-width="1.0" stroke-linecap="round" fill="none"/>
<path d="M422.04,552.65L422.04,548.05M420.05,551.50L424.03,549.20M424.03,551.50L420.05,549.20" stroke="#e8687f" stroke-width="1.0" stroke-linecap="round" fill="none"/>
<path d="M427.59,552.65L427.59,548.05M425.60,551.50L429.58,549.20M429.58,551.50L425.60,549.20" stroke="#e8687f" stroke-width="1.0" stroke-linecap="round" fill="none"/>
<text x="430.36" y="553.05" font-size="9.7" fill="#1e1e1e" stroke="#1e1e1e">)</text>
<text x="348.60" y="567.65" font-size="9.7" text-anchor="middle" fill="#1e1e1e" stroke="#1e1e1e">Comprehensiveness</text>
<text x="388.49" y="567.65" font-size="9.7" fill="#1e1e1e" stroke="#1e1e1e">(</text>
<text x="391.72" y="567.65" font-size="9.7" fill="#3d8f3d" stroke="#3d8f3d">ns</text>
<text x="400.35" y="567.65" font-size="9.7" fill="#1e1e1e" stroke="#1e1e1e">, </text>
<text x="405.20" y="567.65" font-size="9.7" fill="#e03548" stroke="#e03548">ns</text>
<text x="413.82" y="567.65" font-size="9.7" fill="#1e1e1e" stroke="#1e1e1e">)</text>
<text x="273.20" y="542.05" font-size="9.7" text-anchor="middle" fill="#1e1e1e" stroke="#1e1e1e">Explainability</text>
<text x="249.61" y="554.75" font-size="9.7" fill="#1e1e1e" stroke="#1e1e1e">(</text>
<path d="M255.61,554.35L255.61,549.75M253.62,553.20L257.60,550.90M257.60,553.20L253.62,550.90" stroke="#64a864" stroke-width="1.0" stroke-linecap="round" fill="none"/>
<path d="M261.16,554.35L261.16,549.75M259.17,553.20L263.15,550.90M263.15,553.20L259.17,550.90" stroke="#64a864" stroke-width="1.0" stroke-linecap="round" fill="none"/>
<path d="M266.71,554.35L266.71,549.75M264.72,553.20L268.70,550.90M268.70,553.20L264.72,550.90" stroke="#64a864" stroke-width="1.0" stroke-linecap="round" fill="none"/>
<text x="269.49" y="554.75" font-size="9.7" fill="#1e1e1e" stroke="#1e1e1e">,</text>
<path d="M274.69,554.35L274.69,549.75M272.70,553.20L276.68,550.90M276.68,553.20L272.70,550.90" stroke="#e8687f" stroke-width="1.0" stroke-linecap="round" fill="none"/>
<path d="M280.24,554.35L280.24,549.75M278.25,553.20L282.23,550.90M282.23,553.20L278.25,550.90" stroke="#e8687f" stroke-width="1.0" stroke-linecap="round" fill="none"/>
<path d="M285.79,554.35L285.79,549.75M283.80,553.20L287.78,550.90M287.78,553.20L283.80,550.90" stroke="#e8687f" stroke-width="1.0" stroke-linecap="round" fill="none"/>
<text x="288.56" y="554.75" font-size="9.7" fill="#1e1e1e" stroke="#1e1e1e">)</text>
<text x="256.20" y="492.55" font-size="9.7" text-anchor="middle" fill="#1e1e1e" stroke="#1e1e1e">Conciseness</text>
<text x="233.71" y="503.65" font-size="9.7" fill="#1e1e1e" stroke="#1e1e1e">(</text>
<path d="M239.71,503.25L239.71,498.65M237.72,502.10L241.70,499.80M241.70,502.10L237.72,499.80" stroke="#64a864" stroke-width="1.0" stroke-linecap="round" fill="none"/>
<path d="M245.26,503.25L245.26,498.65M243.27,502.10L247.25,499.80M247.25,502.10L243.27,499.80" stroke="#64a864" stroke-width="1.0" stroke-linecap="round" fill="none"/>
<path d="M250.81,503.25L250.81,498.65M248.82,502.10L252.80,499.80M252.80,502.10L248.82,499.80" stroke="#64a864" stroke-width="1.0" stroke-linecap="round" fill="none"/>
<text x="253.59" y="503.65" font-size="9.7" fill="#1e1e1e" stroke="#1e1e1e">,</text>
<path d="M258.79,503.25L258.79,498.65M256.80,502.10L260.78,499.80M260.78,502.10L256.80,499.80" stroke="#e8687f" stroke-width="1.0" stroke-linecap="round" fill="none"/>
<path d="M264.34,503.25L264.34,498.65M262.35,502.10L266.33,499.80M266.33,502.10L262.35,499.80" stroke="#e8687f" stroke-width="1.0" stroke-linecap="round" fill="none"/>
<path d="M269.89,503.25L269.89,498.65M267.90,502.10L271.88,499.80M271.88,502.10L267.90,499.80" stroke="#e8687f" stroke-width="1.0" stroke-linecap="round" fill="none"/>
<text x="272.66" y="503.65" font-size="9.7" fill="#1e1e1e" stroke="#1e1e1e">)</text>
<text x="273.70" y="443.55" font-size="9.7" text-anchor="middle" fill="#1e1e1e" stroke="#1e1e1e">Unbiasedness</text>
<text x="250.31" y="454.15" font-size="9.7" fill="#1e1e1e" stroke="#1e1e1e">(</text>
<path d="M256.31,453.75L256.31,449.15M254.32,452.60L258.30,450.30M258.30,452.60L254.32,450.30" stroke="#64a864" stroke-width="1.0" stroke-linecap="round" fill="none"/>
<path d="M261.86,453.75L261.86,449.15M259.87,452.60L263.85,450.30M263.85,452.60L259.87,450.30" stroke="#64a864" stroke-width="1.0" stroke-linecap="round" fill="none"/>
<path d="M267.41,453.75L267.41,449.15M265.42,452.60L269.40,450.30M269.40,452.60L265.42,450.30" stroke="#64a864" stroke-width="1.0" stroke-linecap="round" fill="none"/>
<text x="270.19" y="454.15" font-size="9.7" fill="#1e1e1e" stroke="#1e1e1e">,</text>
<path d="M275.39,453.75L275.39,449.15M273.40,452.60L277.38,450.30M277.38,452.60L273.40,450.30" stroke="#e8687f" stroke-width="1.0" stroke-linecap="round" fill="none"/>
<path d="M280.94,453.75L280.94,449.15M278.95,452.60L282.93,450.30M282.93,452.60L278.95,450.30" stroke="#e8687f" stroke-width="1.0" stroke-linecap="round" fill="none"/>
<path d="M286.49,453.75L286.49,449.15M284.50,452.60L288.48,450.30M288.48,452.60L284.50,450.30" stroke="#e8687f" stroke-width="1.0" stroke-linecap="round" fill="none"/>
<text x="289.26" y="454.15" font-size="9.7" fill="#1e1e1e" stroke="#1e1e1e">)</text>
<text x="352.10" y="584.65" font-size="13.2" text-anchor="middle" fill="#1e1e1e" stroke="#1e1e1e">(h)</text>
<polygon points="573.70,476.52 582.86,480.38 586.66,489.70 582.86,499.02 573.70,502.88 564.54,499.02 560.74,489.70 564.54,480.38" fill="none" stroke="#dcdcdc" stroke-width="0.7"/>
<polygon points="573.70,463.34 592.03,471.06 599.62,489.70 592.03,508.34 573.70,516.06 555.37,508.34 547.78,489.70 555.37,471.06" fill="none" stroke="#dcdcdc" stroke-width="0.7"/>
<polygon points="573.70,450.16 601.19,461.74 612.58,489.70 601.19,517.66 573.70,529.24 546.21,517.66 534.82,489.70 546.21,461.74" fill="none" stroke="#dcdcdc" stroke-width="0.7"/>
<polygon points="573.70,436.98 610.36,452.42 625.54,489.70 610.36,526.98 573.70,542.42 537.04,526.98 521.86,489.70 537.04,452.42" fill="none" stroke="#dcdcdc" stroke-width="0.7"/>
<polygon points="573.70,423.80 619.52,443.10 638.50,489.70 619.52,536.30 573.70,555.60 527.88,536.30 508.90,489.70 527.88,443.10" fill="none" stroke="#dcdcdc" stroke-width="0.7"/>
<text x="565.90" y="492.70" font-size="8.0" text-anchor="end" fill="#1e1e1e" stroke="#1e1e1e">0</text>
<text x="565.90" y="479.52" font-size="8.0" text-anchor="end" fill="#1e1e1e" stroke="#1e1e1e">0.2</text>
<text x="565.90" y="466.34" font-size="8.0" text-anchor="end" fill="#1e1e1e" stroke="#1e1e1e">0.4</text>
<text x="565.90" y="453.16" font-size="8.0" text-anchor="end" fill="#1e1e1e" stroke="#1e1e1e">0.6</text>
<text x="565.90" y="439.98" font-size="8.0" text-anchor="end" fill="#1e1e1e" stroke="#1e1e1e">0.8</text>
<text x="565.90" y="426.80" font-size="8.0" text-anchor="end" fill="#1e1e1e" stroke="#1e1e1e">1</text>
<polygon points="573.70,424.20 618.60,444.03 638.50,489.70 617.23,533.97 573.70,547.30 531.09,533.04 538.77,489.70 532.00,447.30" fill="none" stroke="#4472d6" stroke-width="1.4" stroke-linejoin="miter"/>
<polygon points="573.70,426.70 608.98,453.82 637.53,489.70 617.23,533.97 573.70,544.99 533.84,530.24 513.11,489.70 535.21,450.56" fill="none" stroke="#6cc044" stroke-width="1.4" stroke-linejoin="miter"/>
<polygon points="573.70,425.38 615.85,446.83 638.50,489.70 615.85,532.57 573.70,548.29 533.38,530.71 516.09,489.70 534.29,449.63" fill="none" stroke="#e0344a" stroke-width="1.4" stroke-linejoin="miter"/>
<text x="563.10" y="419.00" font-size="9.7" fill="#1e1e1e" stroke="#1e1e1e">MPD</text>
<text x="584.82" y="419.00" font-size="9.7" fill="#1e1e1e" stroke="#1e1e1e">(</text>
<path d="M590.83,418.60L590.83,414.00M588.84,417.45L592.82,415.15M592.82,417.45L588.84,415.15" stroke="#64a864" stroke-width="1.0" stroke-linecap="round" fill="none"/>
<path d="M596.38,418.60L596.38,414.00M594.39,417.45L598.37,415.15M598.37,417.45L594.39,415.15" stroke="#64a864" stroke-width="1.0" stroke-linecap="round" fill="none"/>
<text x="599.15" y="419.00" font-size="9.7" fill="#1e1e1e" stroke="#1e1e1e">, </text>
<text x="604.00" y="419.00" font-size="9.7" fill="#e03548" stroke="#e03548">ns</text>
<text x="612.63" y="419.00" font-size="9.7" fill="#1e1e1e" stroke="#1e1e1e">)</text>
<text x="632.40" y="444.10" font-size="9.7" text-anchor="middle" fill="#1e1e1e" stroke="#1e1e1e">MSD</text>
<text x="631.58" y="454.10" font-size="9.7" fill="#1e1e1e" stroke="#1e1e1e">(</text>
<path d="M637.59,453.70L637.59,449.10M635.60,452.55L639.58,450.25M639.58,452.55L635.60,450.25" stroke="#64a864" stroke-width="1.0" stroke-linecap="round" fill="none"/>
<path d="M643.14,453.70L643.14,449.10M641.15,452.55L645.13,450.25M645.13,452.55L641.15,450.25" stroke="#64a864" stroke-width="1.0" stroke-linecap="round" fill="none"/>
<path d="M648.69,453.70L648.69,449.10M646.70,452.55L650.68,450.25M650.68,452.55L646.70,450.25" stroke="#64a864" stroke-width="1.0" stroke-linecap="round" fill="none"/>
<text x="651.46" y="454.10" font-size="9.7" fill="#1e1e1e" stroke="#1e1e1e">,</text>
<path d="M656.66,453.70L656.66,449.10M654.67,452.55L658.65,450.25M658.65,452.55L654.67,450.25" stroke="#e8687f" stroke-width="1.0" stroke-linecap="round" fill="none"/>
<path d="M662.21,453.70L662.21,449.10M660.22,452.55L664.20,450.25M664.20,452.55L660.22,450.25" stroke="#e8687f" stroke-width="1.0" stroke-linecap="round" fill="none"/>
<text x="664.99" y="454.10" font-size="9.7" fill="#1e1e1e" stroke="#1e1e1e">)</text>
<text x="655.90" y="492.90" font-size="9.7" text-anchor="middle" fill="#1e1e1e" stroke="#1e1e1e">PMisD</text>
<text x="640.82" y="502.40" font-size="9.7" fill="#1e1e1e" stroke="#1e1e1e">(</text>
<text x="644.05" y="502.40" font-size="9.7" fill="#3d8f3d" stroke="#3d8f3d">ns</text>
<text x="652.67" y="502.40" font-size="9.7" fill="#1e1e1e" stroke="#1e1e1e">, </text>
<text x="657.52" y="502.40" font-size="9.7" fill="#e03548" stroke="#e03548">ns</text>
<text x="666.15" y="502.40" font-size="9.7" fill="#1e1e1e" stroke="#1e1e1e">)</text>
<text x="635.80" y="542.20" font-size="9.7" text-anchor="middle" fill="#1e1e1e" stroke="#1e1e1e">SMisD</text>
<text x="619.42" y="552.20" font-size="9.7" fill="#1e1e1e" stroke="#1e1e1e">(</text>
<text x="622.65" y="552.20" font-size="9.7" fill="#3d8f3d" stroke="#3d8f3d">ns</text>
<text x="631.27" y="552.20" font-size="9.7" fill="#1e1e1e" stroke="#1e1e1e">,</text>
<path d="M636.47,551.80L636.47,547.20M634.48,550.65L638.47,548.35M638.47,550.65L634.48,548.35" stroke="#e8687f" stroke-width="1.0" stroke-linecap="round" fill="none"/>
<path d="M642.02,551.80L642.02,547.20M640.03,550.65L644.02,548.35M644.02,550.65L640.03,548.35" stroke="#e8687f" stroke-width="1.0" stroke-linecap="round" fill="none"/>
<path d="M647.57,551.80L647.57,547.20M645.58,550.65L649.57,548.35M649.57,550.65L645.58,548.35" stroke="#e8687f" stroke-width="1.0" stroke-linecap="round" fill="none"/>
<text x="650.35" y="552.20" font-size="9.7" fill="#1e1e1e" stroke="#1e1e1e">)</text>
<text x="573.60" y="567.60" font-size="9.7" text-anchor="middle" fill="#1e1e1e" stroke="#1e1e1e">Comprehensiveness</text>
<text x="614.39" y="567.60" font-size="9.7" fill="#1e1e1e" stroke="#1e1e1e">(</text>
<path d="M620.40,567.20L620.40,562.60M618.41,566.05L622.39,563.75M622.39,566.05L618.41,563.75" stroke="#64a864" stroke-width="1.0" stroke-linecap="round" fill="none"/>
<path d="M625.95,567.20L625.95,562.60M623.96,566.05L627.94,563.75M627.94,566.05L623.96,563.75" stroke="#64a864" stroke-width="1.0" stroke-linecap="round" fill="none"/>
<path d="M631.50,567.20L631.50,562.60M629.51,566.05L633.49,563.75M633.49,566.05L629.51,563.75" stroke="#64a864" stroke-width="1.0" stroke-linecap="round" fill="none"/>
<text x="634.27" y="567.60" font-size="9.7" fill="#1e1e1e" stroke="#1e1e1e">, </text>
<text x="639.12" y="567.60" font-size="9.7" fill="#e03548" stroke="#e03548">ns</text>
<text x="647.75" y="567.60" font-size="9.7" fill="#1e1e1e" stroke="#1e1e1e">)</text>
<text x="498.50" y="541.60" font-size="9.7" text-anchor="middle" fill="#1e1e1e" stroke="#1e1e1e">Explainability</text>
<text x="479.81" y="552.80" font-size="9.7" fill="#1e1e1e" stroke="#1e1e1e">(</text>
<path d="M485.81,552.40L485.81,547.80M483.82,551.25L487.80,548.95M487.80,551.25L483.82,548.95" stroke="#64a864" stroke-width="1.0" stroke-linecap="round" fill="none"/>
<path d="M491.36,552.40L491.36,547.80M489.37,551.25L493.35,548.95M493.35,551.25L489.37,548.95" stroke="#64a864" stroke-width="1.0" stroke-linecap="round" fill="none"/>
<path d="M496.91,552.40L496.91,547.80M494.92,551.25L498.90,548.95M498.90,551.25L494.92,548.95" stroke="#64a864" stroke-width="1.0" stroke-linecap="round" fill="none"/>
<text x="499.69" y="552.80" font-size="9.7" fill="#1e1e1e" stroke="#1e1e1e">, </text>
<text x="504.54" y="552.80" font-size="9.7" fill="#e03548" stroke="#e03548">ns</text>
<text x="513.16" y="552.80" font-size="9.7" fill="#1e1e1e" stroke="#1e1e1e">)</text>
<text x="481.60" y="492.50" font-size="9.7" text-anchor="middle" fill="#1e1e1e" stroke="#1e1e1e">Conciseness</text>
<text x="460.21" y="503.00" font-size="9.7" fill="#1e1e1e" stroke="#1e1e1e">(</text>
<path d="M466.21,502.60L466.21,498.00M464.22,501.45L468.20,499.15M468.20,501.45L464.22,499.15" stroke="#64a864" stroke-width="1.0" stroke-linecap="round" fill="none"/>
<path d="M471.76,502.60L471.76,498.00M469.77,501.45L473.75,499.15M473.75,501.45L469.77,499.15" stroke="#64a864" stroke-width="1.0" stroke-linecap="round" fill="none"/>
<path d="M477.31,502.60L477.31,498.00M475.32,501.45L479.30,499.15M479.30,501.45L475.32,499.15" stroke="#64a864" stroke-width="1.0" stroke-linecap="round" fill="none"/>
<text x="480.09" y="503.00" font-size="9.7" fill="#1e1e1e" stroke="#1e1e1e">,</text>
<path d="M485.29,502.60L485.29,498.00M483.30,501.45L487.28,499.15M487.28,501.45L483.30,499.15" stroke="#e8687f" stroke-width="1.0" stroke-linecap="round" fill="none"/>
<path d="M490.84,502.60L490.84,498.00M488.85,501.45L492.83,499.15M492.83,501.45L488.85,499.15" stroke="#e8687f" stroke-width="1.0" stroke-linecap="round" fill="none"/>
<path d="M496.39,502.60L496.39,498.00M494.40,501.45L498.38,499.15M498.38,501.45L494.40,499.15" stroke="#e8687f" stroke-width="1.0" stroke-linecap="round" fill="none"/>
<text x="499.16" y="503.00" font-size="9.7" fill="#1e1e1e" stroke="#1e1e1e">)</text>
<text x="499.10" y="443.50" font-size="9.7" text-anchor="middle" fill="#1e1e1e" stroke="#1e1e1e">Unbiasedness</text>
<text x="475.31" y="454.10" font-size="9.7" fill="#1e1e1e" stroke="#1e1e1e">(</text>
<path d="M481.31,453.70L481.31,449.10M479.32,452.55L483.30,450.25M483.30,452.55L479.32,450.25" stroke="#64a864" stroke-width="1.0" stroke-linecap="round" fill="none"/>
<path d="M486.86,453.70L486.86,449.10M484.87,452.55L488.85,450.25M488.85,452.55L484.87,450.25" stroke="#64a864" stroke-width="1.0" stroke-linecap="round" fill="none"/>
<path d="M492.41,453.70L492.41,449.10M490.42,452.55L494.40,450.25M494.40,452.55L490.42,450.25" stroke="#64a864" stroke-width="1.0" stroke-linecap="round" fill="none"/>
<text x="495.19" y="454.10" font-size="9.7" fill="#1e1e1e" stroke="#1e1e1e">,</text>
<path d="M500.39,453.70L500.39,449.10M498.40,452.55L502.38,450.25M502.38,452.55L498.40,450.25" stroke="#e8687f" stroke-width="1.0" stroke-linecap="round" fill="none"/>
<path d="M505.94,453.70L505.94,449.10M503.95,452.55L507.93,450.25M507.93,452.55L503.95,450.25" stroke="#e8687f" stroke-width="1.0" stroke-linecap="round" fill="none"/>
<path d="M511.49,453.70L511.49,449.10M509.50,452.55L513.48,450.25M513.48,452.55L509.50,450.25" stroke="#e8687f" stroke-width="1.0" stroke-linecap="round" fill="none"/>
<text x="514.26" y="454.10" font-size="9.7" fill="#1e1e1e" stroke="#1e1e1e">)</text>
<text x="576.50" y="583.60" font-size="13.2" text-anchor="middle" fill="#1e1e1e" stroke="#1e1e1e">(i)</text>
</svg></body></html>
